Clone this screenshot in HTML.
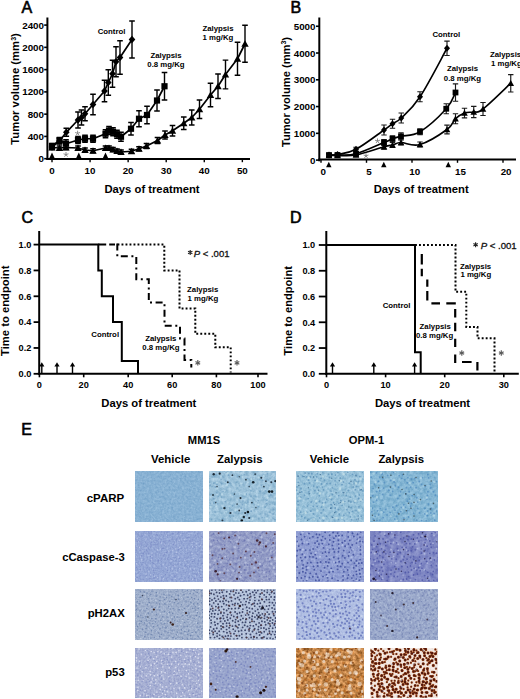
<!DOCTYPE html>
<html><head><meta charset="utf-8"><title>Figure</title>
<style>
html,body{margin:0;padding:0;background:#fff;}
body{width:520px;height:699px;overflow:hidden;font-family:"Liberation Sans",sans-serif;}
svg{display:block;font-family:"Liberation Sans",sans-serif;}
</style></head><body>
<svg width="520" height="699" viewBox="0 0 520 699">
<rect width="520" height="699" fill="#fff"/>
<text x="21.6" y="13.3" font-size="16" font-weight="normal" stroke="#000" stroke-width="0.6">A</text>
<text x="290.5" y="12.8" font-size="16" font-weight="normal" stroke="#000" stroke-width="0.6">B</text>
<text x="21.5" y="222.6" font-size="16" font-weight="normal" stroke="#000" stroke-width="0.6">C</text>
<text x="290" y="223" font-size="16" font-weight="normal" stroke="#000" stroke-width="0.6">D</text>
<text x="21.3" y="434.6" font-size="16" font-weight="normal" stroke="#000" stroke-width="0.6">E</text>
<line x1="47.4" y1="17.5" x2="47.4" y2="160" stroke="#000" stroke-width="2" />
<line x1="46.4" y1="159" x2="250" y2="159" stroke="#000" stroke-width="2" />
<line x1="44.2" y1="158.7" x2="47.4" y2="158.7" stroke="#000" stroke-width="1.6" />
<text x="44" y="162.2" font-size="9.8" font-weight="bold" text-anchor="end" >0</text>
<line x1="44.2" y1="136.42999999999998" x2="47.4" y2="136.42999999999998" stroke="#000" stroke-width="1.6" />
<text x="44" y="139.92999999999998" font-size="9.8" font-weight="bold" text-anchor="end" >400</text>
<line x1="44.2" y1="114.16" x2="47.4" y2="114.16" stroke="#000" stroke-width="1.6" />
<text x="44" y="117.66" font-size="9.8" font-weight="bold" text-anchor="end" >800</text>
<line x1="44.2" y1="91.88999999999999" x2="47.4" y2="91.88999999999999" stroke="#000" stroke-width="1.6" />
<text x="44" y="95.38999999999999" font-size="9.8" font-weight="bold" text-anchor="end" >1200</text>
<line x1="44.2" y1="69.61999999999999" x2="47.4" y2="69.61999999999999" stroke="#000" stroke-width="1.6" />
<text x="44" y="73.11999999999999" font-size="9.8" font-weight="bold" text-anchor="end" >1600</text>
<line x1="44.2" y1="47.349999999999994" x2="47.4" y2="47.349999999999994" stroke="#000" stroke-width="1.6" />
<text x="44" y="50.849999999999994" font-size="9.8" font-weight="bold" text-anchor="end" >2000</text>
<line x1="44.2" y1="25.079999999999984" x2="47.4" y2="25.079999999999984" stroke="#000" stroke-width="1.6" />
<text x="44" y="28.579999999999984" font-size="9.8" font-weight="bold" text-anchor="end" >2400</text>
<line x1="52.0" y1="159" x2="52.0" y2="162.2" stroke="#000" stroke-width="1.4" />
<text x="52.0" y="174" font-size="9.8" font-weight="bold" text-anchor="middle" >0</text>
<line x1="90.07" y1="159" x2="90.07" y2="162.2" stroke="#000" stroke-width="1.4" />
<text x="90.07" y="174" font-size="9.8" font-weight="bold" text-anchor="middle" >10</text>
<line x1="128.14" y1="159" x2="128.14" y2="162.2" stroke="#000" stroke-width="1.4" />
<text x="128.14" y="174" font-size="9.8" font-weight="bold" text-anchor="middle" >20</text>
<line x1="166.20999999999998" y1="159" x2="166.20999999999998" y2="162.2" stroke="#000" stroke-width="1.4" />
<text x="166.20999999999998" y="174" font-size="9.8" font-weight="bold" text-anchor="middle" >30</text>
<line x1="204.28" y1="159" x2="204.28" y2="162.2" stroke="#000" stroke-width="1.4" />
<text x="204.28" y="174" font-size="9.8" font-weight="bold" text-anchor="middle" >40</text>
<line x1="242.35" y1="159" x2="242.35" y2="162.2" stroke="#000" stroke-width="1.4" />
<text x="242.35" y="174" font-size="9.8" font-weight="bold" text-anchor="middle" >50</text>
<text transform="translate(19.2,89) rotate(-90)" font-size="11.3" font-weight="bold" text-anchor="middle">Tumor volume (mm<tspan font-size="7" dy="-3.5">3</tspan><tspan dy="3.5">)</tspan></text>
<text x="152" y="192.5" font-size="11.25" font-weight="bold" text-anchor="middle" >Days of treatment</text>
<path d="M52 145V149M49.2 145H54.8M49.2 149H54.8" stroke="#000" stroke-width="1.4" fill="none"/>
<path d="M59.5 138V144M56.7 138H62.3M56.7 144H62.3" stroke="#000" stroke-width="1.4" fill="none"/>
<path d="M66.3 128.3V136.3M63.5 128.3H69.1M63.5 136.3H69.1" stroke="#000" stroke-width="1.4" fill="none"/>
<path d="M78 112V128M75.2 112H80.8M75.2 128H80.8" stroke="#000" stroke-width="1.4" fill="none"/>
<path d="M81.5 110.0V125.0M78.7 110.0H84.3M78.7 125.0H84.3" stroke="#000" stroke-width="1.4" fill="none"/>
<path d="M85 106.75V120.75M82.2 106.75H87.8M82.2 120.75H87.8" stroke="#000" stroke-width="1.4" fill="none"/>
<path d="M93 94.2V114.8M90.2 94.2H95.8M90.2 114.8H95.8" stroke="#000" stroke-width="1.4" fill="none"/>
<path d="M104.5 80.3V101.7M101.7 80.3H107.3M101.7 101.7H107.3" stroke="#000" stroke-width="1.4" fill="none"/>
<path d="M108.3 69.7V95.3M105.5 69.7H111.1M105.5 95.3H111.1" stroke="#000" stroke-width="1.4" fill="none"/>
<path d="M112.5 60.25V87.25M109.7 60.25H115.3M109.7 87.25H115.3" stroke="#000" stroke-width="1.4" fill="none"/>
<path d="M116 46.75V76.75M113.2 46.75H118.8M113.2 76.75H118.8" stroke="#000" stroke-width="1.4" fill="none"/>
<path d="M120 40.8V74.2M117.2 40.8H122.8M117.2 74.2H122.8" stroke="#000" stroke-width="1.4" fill="none"/>
<path d="M132 21.0V58.0M129.2 21.0H134.8M129.2 58.0H134.8" stroke="#000" stroke-width="1.4" fill="none"/>
<path d="M52 143.5V148.5M49.2 143.5H54.8M49.2 148.5H54.8" stroke="#000" stroke-width="1.4" fill="none"/>
<path d="M59.5 137.5V143.5M56.7 137.5H62.3M56.7 143.5H62.3" stroke="#000" stroke-width="1.4" fill="none"/>
<path d="M66 139.75V147.75M63.2 139.75H68.8M63.2 147.75H68.8" stroke="#000" stroke-width="1.4" fill="none"/>
<path d="M78 136.5V143.5M75.2 136.5H80.8M75.2 143.5H80.8" stroke="#000" stroke-width="1.4" fill="none"/>
<path d="M85 135.25V142.25M82.2 135.25H87.8M82.2 142.25H87.8" stroke="#000" stroke-width="1.4" fill="none"/>
<path d="M93 135.25V142.25M90.2 135.25H95.8M90.2 142.25H95.8" stroke="#000" stroke-width="1.4" fill="none"/>
<path d="M105.5 129.75V137.75M102.7 129.75H108.3M102.7 137.75H108.3" stroke="#000" stroke-width="1.4" fill="none"/>
<path d="M109 126.5V134.5M106.2 126.5H111.8M106.2 134.5H111.8" stroke="#000" stroke-width="1.4" fill="none"/>
<path d="M113 127.75V135.75M110.2 127.75H115.8M110.2 135.75H115.8" stroke="#000" stroke-width="1.4" fill="none"/>
<path d="M117 130.25V138.25M114.2 130.25H119.8M114.2 138.25H119.8" stroke="#000" stroke-width="1.4" fill="none"/>
<path d="M121 132.25V141.25M118.2 132.25H123.8M118.2 141.25H123.8" stroke="#000" stroke-width="1.4" fill="none"/>
<path d="M131 122.45V135.05M128.2 122.45H133.8M128.2 135.05H133.8" stroke="#000" stroke-width="1.4" fill="none"/>
<path d="M139 110.75V126.75M136.2 110.75H141.8M136.2 126.75H141.8" stroke="#000" stroke-width="1.4" fill="none"/>
<path d="M147 106.2V123.8M144.2 106.2H149.8M144.2 123.8H149.8" stroke="#000" stroke-width="1.4" fill="none"/>
<path d="M157 90.0V111.0M154.2 90.0H159.8M154.2 111.0H159.8" stroke="#000" stroke-width="1.4" fill="none"/>
<path d="M164.5 72.45V100.05M161.7 72.45H167.3M161.7 100.05H167.3" stroke="#000" stroke-width="1.4" fill="none"/>
<path d="M52 145.5V149.5M49.2 145.5H54.8M49.2 149.5H54.8" stroke="#000" stroke-width="1.4" fill="none"/>
<path d="M59.5 146V150M56.7 146H62.3M56.7 150H62.3" stroke="#000" stroke-width="1.4" fill="none"/>
<path d="M66 145.5V149.5M63.2 145.5H68.8M63.2 149.5H68.8" stroke="#000" stroke-width="1.4" fill="none"/>
<path d="M78 146V150M75.2 146H80.8M75.2 150H80.8" stroke="#000" stroke-width="1.4" fill="none"/>
<path d="M85 148V152M82.2 148H87.8M82.2 152H87.8" stroke="#000" stroke-width="1.4" fill="none"/>
<path d="M93 148.75V152.75M90.2 148.75H95.8M90.2 152.75H95.8" stroke="#000" stroke-width="1.4" fill="none"/>
<path d="M105.5 146V150M102.7 146H108.3M102.7 150H108.3" stroke="#000" stroke-width="1.4" fill="none"/>
<path d="M109 146V150M106.2 146H111.8M106.2 150H111.8" stroke="#000" stroke-width="1.4" fill="none"/>
<path d="M113 147.5V151.5M110.2 147.5H115.8M110.2 151.5H115.8" stroke="#000" stroke-width="1.4" fill="none"/>
<path d="M117 149V153M114.2 149H119.8M114.2 153H119.8" stroke="#000" stroke-width="1.4" fill="none"/>
<path d="M121 150V154M118.2 150H123.8M118.2 154H123.8" stroke="#000" stroke-width="1.4" fill="none"/>
<path d="M131.5 149.25V153.25M128.7 149.25H134.3M128.7 153.25H134.3" stroke="#000" stroke-width="1.4" fill="none"/>
<path d="M139 146.75V150.75M136.2 146.75H141.8M136.2 150.75H141.8" stroke="#000" stroke-width="1.4" fill="none"/>
<path d="M146.5 143.5V148.5M143.7 143.5H149.3M143.7 148.5H149.3" stroke="#000" stroke-width="1.4" fill="none"/>
<path d="M157.5 137.5V143.5M154.7 137.5H160.3M154.7 143.5H160.3" stroke="#000" stroke-width="1.4" fill="none"/>
<path d="M165 131V139M162.2 131H167.8M162.2 139H167.8" stroke="#000" stroke-width="1.4" fill="none"/>
<path d="M172.5 125.45V136.05M169.7 125.45H175.3M169.7 136.05H175.3" stroke="#000" stroke-width="1.4" fill="none"/>
<path d="M183.75 116.95V129.55M180.95 116.95H186.55M180.95 129.55H186.55" stroke="#000" stroke-width="1.4" fill="none"/>
<path d="M191.75 110.0V125.0M188.95 110.0H194.55M188.95 125.0H194.55" stroke="#000" stroke-width="1.4" fill="none"/>
<path d="M199.5 100.05V118.45M196.7 100.05H202.3M196.7 118.45H202.3" stroke="#000" stroke-width="1.4" fill="none"/>
<path d="M210.5 83.3V106.7M207.7 83.3H213.3M207.7 106.7H213.3" stroke="#000" stroke-width="1.4" fill="none"/>
<path d="M218 74.05V98.45M215.2 74.05H220.8M215.2 98.45H220.8" stroke="#000" stroke-width="1.4" fill="none"/>
<path d="M225.5 60.1V88.9M222.7 60.1H228.3M222.7 88.9H228.3" stroke="#000" stroke-width="1.4" fill="none"/>
<path d="M237.5 42.25V75.25M234.7 42.25H240.3M234.7 75.25H240.3" stroke="#000" stroke-width="1.4" fill="none"/>
<path d="M245 25.25V62.25M242.2 25.25H247.8M242.2 62.25H247.8" stroke="#000" stroke-width="1.4" fill="none"/>
<path d="M52 147L59.5 141L66.3 132.3L78 120L81.5 117.5L85 113.75L93 104.5L104.5 91L108.3 82.5L112.5 73.75L116 61.75L120 57.5L132 39.5" stroke="#000" stroke-width="1.7" fill="none" stroke-linejoin="round"/>
<path d="M52 146L59.5 140.5L66 143.75L78 140L85 138.75L93 138.75L105.5 133.75L109 130.5L113 131.75L117 134.25L121 136.75L131 128.75L139 118.75L147 115L157 100.5L164.5 86.25" stroke="#000" stroke-width="1.7" fill="none" stroke-linejoin="round"/>
<path d="M52 147.5L59.5 148L66 147.5L78 148L85 150L93 150.75L105.5 148L109 148L113 149.5L117 151L121 152L131.5 151.25L139 148.75L146.5 146L157.5 140.5L165 135L172.5 130.75L183.75 123.25L191.75 117.5L199.5 109.25L210.5 95L218 86.25L225.5 74.5L237.5 58.75L245 43.75" stroke="#000" stroke-width="1.7" fill="none" stroke-linejoin="round"/>
<path d="M52 143.205L55.3 147L52 150.795L48.7 147Z"/>
<path d="M59.5 137.205L62.8 141L59.5 144.795L56.2 141Z"/>
<path d="M66.3 128.50500000000002L69.6 132.3L66.3 136.095L63.0 132.3Z"/>
<path d="M78 116.205L81.3 120L78 123.795L74.7 120Z"/>
<path d="M81.5 113.705L84.8 117.5L81.5 121.295L78.2 117.5Z"/>
<path d="M85 109.955L88.3 113.75L85 117.545L81.7 113.75Z"/>
<path d="M93 100.705L96.3 104.5L93 108.295L89.7 104.5Z"/>
<path d="M104.5 87.205L107.8 91L104.5 94.795L101.2 91Z"/>
<path d="M108.3 78.705L111.6 82.5L108.3 86.295L105.0 82.5Z"/>
<path d="M112.5 69.955L115.8 73.75L112.5 77.545L109.2 73.75Z"/>
<path d="M116 57.955L119.3 61.75L116 65.545L112.7 61.75Z"/>
<path d="M120 53.705L123.3 57.5L120 61.295L116.7 57.5Z"/>
<path d="M132 35.705L135.3 39.5L132 43.295L128.7 39.5Z"/>
<rect x="48.9" y="142.9" width="6.2" height="6.2"/>
<rect x="56.4" y="137.4" width="6.2" height="6.2"/>
<rect x="62.9" y="140.65" width="6.2" height="6.2"/>
<rect x="74.9" y="136.9" width="6.2" height="6.2"/>
<rect x="81.9" y="135.65" width="6.2" height="6.2"/>
<rect x="89.9" y="135.65" width="6.2" height="6.2"/>
<rect x="102.4" y="130.65" width="6.2" height="6.2"/>
<rect x="105.9" y="127.4" width="6.2" height="6.2"/>
<rect x="109.9" y="128.65" width="6.2" height="6.2"/>
<rect x="113.9" y="131.15" width="6.2" height="6.2"/>
<rect x="117.9" y="133.65" width="6.2" height="6.2"/>
<rect x="127.9" y="125.65" width="6.2" height="6.2"/>
<rect x="135.9" y="115.65" width="6.2" height="6.2"/>
<rect x="143.9" y="111.9" width="6.2" height="6.2"/>
<rect x="153.9" y="97.4" width="6.2" height="6.2"/>
<rect x="161.4" y="83.15" width="6.2" height="6.2"/>
<path d="M52 143.98L55.7 150.38L48.3 150.38Z"/>
<path d="M59.5 144.48L63.2 150.88L55.8 150.88Z"/>
<path d="M66 143.98L69.7 150.38L62.3 150.38Z"/>
<path d="M78 144.48L81.7 150.88L74.3 150.88Z"/>
<path d="M85 146.48L88.7 152.88L81.3 152.88Z"/>
<path d="M93 147.23L96.7 153.63L89.3 153.63Z"/>
<path d="M105.5 144.48L109.2 150.88L101.8 150.88Z"/>
<path d="M109 144.48L112.7 150.88L105.3 150.88Z"/>
<path d="M113 145.98L116.7 152.38L109.3 152.38Z"/>
<path d="M117 147.48L120.7 153.88L113.3 153.88Z"/>
<path d="M121 148.48L124.7 154.88L117.3 154.88Z"/>
<path d="M131.5 147.73L135.2 154.13L127.8 154.13Z"/>
<path d="M139 145.23L142.7 151.63L135.3 151.63Z"/>
<path d="M146.5 142.48L150.2 148.88L142.8 148.88Z"/>
<path d="M157.5 136.98L161.2 143.38L153.8 143.38Z"/>
<path d="M165 131.48L168.7 137.88L161.3 137.88Z"/>
<path d="M172.5 127.23L176.2 133.63L168.8 133.63Z"/>
<path d="M183.75 119.73L187.45 126.13L180.05 126.13Z"/>
<path d="M191.75 113.98L195.45 120.38L188.05 120.38Z"/>
<path d="M199.5 105.73L203.2 112.13L195.8 112.13Z"/>
<path d="M210.5 91.48L214.2 97.88L206.8 97.88Z"/>
<path d="M218 82.73L221.7 89.13L214.3 89.13Z"/>
<path d="M225.5 70.98L229.2 77.38L221.8 77.38Z"/>
<path d="M237.5 55.23L241.2 61.63L233.8 61.63Z"/>
<path d="M245 40.23L248.7 46.63L241.3 46.63Z"/>
<path d="M52 152.6L54.7 158.2L49.3 158.2Z"/>
<path d="M78.8 152.6L81.5 158.2L76.1 158.2Z"/>
<path d="M105.5 152.6L108.2 158.2L102.8 158.2Z"/>
<path d="M66 154.6L66.00 152.00M66 154.6L68.47 153.80M66 154.6L67.53 156.70M66 154.6L64.47 156.70M66 154.6L63.53 153.80" stroke="#808080" stroke-width="0.9" fill="none"/>
<path d="M77.6 133.3L77.60 130.70M77.6 133.3L80.07 132.50M77.6 133.3L79.13 135.40M77.6 133.3L76.07 135.40M77.6 133.3L75.13 132.50" stroke="#808080" stroke-width="0.9" fill="none"/>
<text x="111.5" y="33.5" font-size="7.8" font-weight="bold" text-anchor="middle" >Control</text>
<text x="166" y="57.8" font-size="7.8" font-weight="bold" text-anchor="middle" >Zalypsis</text>
<text x="166" y="67.1" font-size="7.8" font-weight="bold" text-anchor="middle" >0.8 mg/Kg</text>
<text x="218" y="30.8" font-size="7.8" font-weight="bold" text-anchor="middle" >Zalypsis</text>
<text x="218" y="39.9" font-size="7.8" font-weight="bold" text-anchor="middle" >1 mg/Kg</text>
<line x1="319.3" y1="17.5" x2="319.3" y2="161.3" stroke="#000" stroke-width="2" />
<line x1="318.3" y1="159.6" x2="516" y2="159.6" stroke="#000" stroke-width="2" />
<line x1="316" y1="160.1" x2="319.3" y2="160.1" stroke="#000" stroke-width="1.6" />
<text x="315.5" y="163.6" font-size="9.8" font-weight="bold" text-anchor="end" >0</text>
<line x1="316" y1="133.32999999999998" x2="319.3" y2="133.32999999999998" stroke="#000" stroke-width="1.6" />
<text x="315.5" y="136.82999999999998" font-size="9.8" font-weight="bold" text-anchor="end" >1000</text>
<line x1="316" y1="106.56" x2="319.3" y2="106.56" stroke="#000" stroke-width="1.6" />
<text x="315.5" y="110.06" font-size="9.8" font-weight="bold" text-anchor="end" >2000</text>
<line x1="316" y1="79.78999999999999" x2="319.3" y2="79.78999999999999" stroke="#000" stroke-width="1.6" />
<text x="315.5" y="83.28999999999999" font-size="9.8" font-weight="bold" text-anchor="end" >3000</text>
<line x1="316" y1="53.019999999999996" x2="319.3" y2="53.019999999999996" stroke="#000" stroke-width="1.6" />
<text x="315.5" y="56.519999999999996" font-size="9.8" font-weight="bold" text-anchor="end" >4000</text>
<line x1="316" y1="26.25" x2="319.3" y2="26.25" stroke="#000" stroke-width="1.6" />
<text x="315.5" y="29.75" font-size="9.8" font-weight="bold" text-anchor="end" >5000</text>
<line x1="321.0" y1="159.6" x2="321.0" y2="162.8" stroke="#000" stroke-width="1.4" />
<text x="323.3" y="175.4" font-size="9.8" font-weight="bold" text-anchor="middle" >0</text>
<line x1="366.5" y1="159.6" x2="366.5" y2="162.8" stroke="#000" stroke-width="1.4" />
<text x="369.0" y="175.4" font-size="9.8" font-weight="bold" text-anchor="middle" >5</text>
<line x1="412.0" y1="159.6" x2="412.0" y2="162.8" stroke="#000" stroke-width="1.4" />
<text x="414.70000000000005" y="175.4" font-size="9.8" font-weight="bold" text-anchor="middle" >10</text>
<line x1="457.5" y1="159.6" x2="457.5" y2="162.8" stroke="#000" stroke-width="1.4" />
<text x="460.40000000000003" y="175.4" font-size="9.8" font-weight="bold" text-anchor="middle" >15</text>
<line x1="503.0" y1="159.6" x2="503.0" y2="162.8" stroke="#000" stroke-width="1.4" />
<text x="506.1" y="175.4" font-size="9.8" font-weight="bold" text-anchor="middle" >20</text>
<text transform="translate(289.5,92) rotate(-90)" font-size="11.15" font-weight="bold" text-anchor="middle">Tumor volume (mm<tspan font-size="7" dy="-3.5">3</tspan><tspan dy="3.5">)</tspan></text>
<text x="421.2" y="192.5" font-size="11.25" font-weight="bold" text-anchor="middle" >Days of treatment</text>
<path d="M329 153.5V156.5M326.3 153.5H331.7M326.3 156.5H331.7" stroke="#1a1a1a" stroke-width="1.15" fill="none"/>
<path d="M337.5 153.0V156.0M334.8 153.0H340.2M334.8 156.0H340.2" stroke="#1a1a1a" stroke-width="1.15" fill="none"/>
<path d="M356 147.25V151.25M353.3 147.25H358.7M353.3 151.25H358.7" stroke="#1a1a1a" stroke-width="1.15" fill="none"/>
<path d="M384 125V135M381.3 125H386.7M381.3 135H386.7" stroke="#1a1a1a" stroke-width="1.15" fill="none"/>
<path d="M392.5 119.25V128.25M389.8 119.25H395.2M389.8 128.25H395.2" stroke="#1a1a1a" stroke-width="1.15" fill="none"/>
<path d="M401.25 113V123M398.55 113H403.95M398.55 123H403.95" stroke="#1a1a1a" stroke-width="1.15" fill="none"/>
<path d="M420 91.75V101.75M417.3 91.75H422.7M417.3 101.75H422.7" stroke="#1a1a1a" stroke-width="1.15" fill="none"/>
<path d="M447 41.05V55.45M444.3 41.05H449.7M444.3 55.45H449.7" stroke="#1a1a1a" stroke-width="1.15" fill="none"/>
<path d="M329 153.5V156.5M326.3 153.5H331.7M326.3 156.5H331.7" stroke="#1a1a1a" stroke-width="1.15" fill="none"/>
<path d="M337.5 153.5V156.5M334.8 153.5H340.2M334.8 156.5H340.2" stroke="#1a1a1a" stroke-width="1.15" fill="none"/>
<path d="M356 151.75V155.75M353.3 151.75H358.7M353.3 155.75H358.7" stroke="#1a1a1a" stroke-width="1.15" fill="none"/>
<path d="M384 139.5V145.5M381.3 139.5H386.7M381.3 145.5H386.7" stroke="#1a1a1a" stroke-width="1.15" fill="none"/>
<path d="M392.5 135.75V141.75M389.8 135.75H395.2M389.8 141.75H395.2" stroke="#1a1a1a" stroke-width="1.15" fill="none"/>
<path d="M401 132.75V139.75M398.3 132.75H403.7M398.3 139.75H403.7" stroke="#1a1a1a" stroke-width="1.15" fill="none"/>
<path d="M420 128.75V134.75M417.3 128.75H422.7M417.3 134.75H422.7" stroke="#1a1a1a" stroke-width="1.15" fill="none"/>
<path d="M446.25 103.75V113.75M443.55 103.75H448.95M443.55 113.75H448.95" stroke="#1a1a1a" stroke-width="1.15" fill="none"/>
<path d="M455.5 83.8V101.2M452.8 83.8H458.2M452.8 101.2H458.2" stroke="#1a1a1a" stroke-width="1.15" fill="none"/>
<path d="M329 154.0V157.0M326.3 154.0H331.7M326.3 157.0H331.7" stroke="#1a1a1a" stroke-width="1.15" fill="none"/>
<path d="M337.5 154.0V157.0M334.8 154.0H340.2M334.8 157.0H340.2" stroke="#1a1a1a" stroke-width="1.15" fill="none"/>
<path d="M356 153.5V156.5M353.3 153.5H358.7M353.3 156.5H358.7" stroke="#1a1a1a" stroke-width="1.15" fill="none"/>
<path d="M384 144.25V149.25M381.3 144.25H386.7M381.3 149.25H386.7" stroke="#1a1a1a" stroke-width="1.15" fill="none"/>
<path d="M392.5 142.5V147.5M389.8 142.5H395.2M389.8 147.5H395.2" stroke="#1a1a1a" stroke-width="1.15" fill="none"/>
<path d="M401 140.0V145.0M398.3 140.0H403.7M398.3 145.0H403.7" stroke="#1a1a1a" stroke-width="1.15" fill="none"/>
<path d="M420 142.0V147.0M417.3 142.0H422.7M417.3 147.0H422.7" stroke="#1a1a1a" stroke-width="1.15" fill="none"/>
<path d="M447 125.1V133.9M444.3 125.1H449.7M444.3 133.9H449.7" stroke="#1a1a1a" stroke-width="1.15" fill="none"/>
<path d="M455.5 113.75V123.75M452.8 113.75H458.2M452.8 123.75H458.2" stroke="#1a1a1a" stroke-width="1.15" fill="none"/>
<path d="M464.5 108.2V117.8M461.8 108.2H467.2M461.8 117.8H467.2" stroke="#1a1a1a" stroke-width="1.15" fill="none"/>
<path d="M473.75 106.4V117.6M471.05 106.4H476.45M471.05 117.6H476.45" stroke="#1a1a1a" stroke-width="1.15" fill="none"/>
<path d="M483 102.5V115.5M480.3 102.5H485.7M480.3 115.5H485.7" stroke="#1a1a1a" stroke-width="1.15" fill="none"/>
<path d="M510.75 74.55V91.95M508.05 74.55H513.45M508.05 91.95H513.45" stroke="#1a1a1a" stroke-width="1.15" fill="none"/>
<path d="M329 155C330.53 154.91 332.64 155.53 337.5 154.5C342.36 153.47 347.63 153.66 356 149.25C364.37 144.84 377.43 134.59 384 130C390.57 125.41 389.39 125.91 392.5 123.75C395.61 121.59 396.30 122.86 401.25 118C406.20 113.14 411.76 109.31 420 96.75C428.24 84.19 442.14 56.98 447 48.25" stroke="#000" stroke-width="1.6" fill="none" stroke-linejoin="round"/>
<path d="M329 155C330.53 155.00 332.64 155.22 337.5 155C342.36 154.78 347.63 156.00 356 153.75C364.37 151.50 377.43 145.20 384 142.5C390.57 139.80 389.44 139.88 392.5 138.75C395.56 137.62 396.05 137.51 401 136.25C405.95 134.99 411.86 136.70 420 131.75C428.14 126.80 439.86 115.81 446.25 108.75C452.64 101.69 453.83 95.42 455.5 92.5" stroke="#000" stroke-width="1.6" fill="none" stroke-linejoin="round"/>
<path d="M329 155.5C330.53 155.50 332.64 155.59 337.5 155.5C342.36 155.41 347.63 156.57 356 155C364.37 153.43 377.43 148.55 384 146.75C390.57 144.95 389.44 145.76 392.5 145C395.56 144.24 396.05 142.59 401 142.5C405.95 142.41 411.72 146.84 420 144.5C428.28 142.16 440.61 134.13 447 129.5C453.39 124.86 452.35 121.72 455.5 118.75C458.65 115.78 461.21 114.22 464.5 113C467.79 111.78 470.42 112.72 473.75 112C477.08 111.28 476.34 114.17 483 109C489.66 103.83 505.75 87.89 510.75 83.25" stroke="#000" stroke-width="1.6" fill="none" stroke-linejoin="round"/>
<path d="M329 151.55L332.0 155L329 158.45L326.0 155Z"/>
<path d="M337.5 151.05L340.5 154.5L337.5 157.95L334.5 154.5Z"/>
<path d="M356 145.8L359.0 149.25L356 152.7L353.0 149.25Z"/>
<path d="M384 126.55L387.0 130L384 133.45L381.0 130Z"/>
<path d="M392.5 120.3L395.5 123.75L392.5 127.2L389.5 123.75Z"/>
<path d="M401.25 114.55L404.25 118L401.25 121.45L398.25 118Z"/>
<path d="M420 93.3L423.0 96.75L420 100.2L417.0 96.75Z"/>
<path d="M447 44.8L450.0 48.25L447 51.7L444.0 48.25Z"/>
<rect x="326.1" y="152.1" width="5.8" height="5.8"/>
<rect x="334.6" y="152.1" width="5.8" height="5.8"/>
<rect x="353.1" y="150.85" width="5.8" height="5.8"/>
<rect x="381.1" y="139.6" width="5.8" height="5.8"/>
<rect x="389.6" y="135.85" width="5.8" height="5.8"/>
<rect x="398.1" y="133.35" width="5.8" height="5.8"/>
<rect x="417.1" y="128.85" width="5.8" height="5.8"/>
<rect x="443.35" y="105.85" width="5.8" height="5.8"/>
<rect x="452.6" y="89.6" width="5.8" height="5.8"/>
<path d="M329 152.2L332.3 158.2L325.7 158.2Z"/>
<path d="M337.5 152.2L340.8 158.2L334.2 158.2Z"/>
<path d="M356 151.7L359.3 157.7L352.7 157.7Z"/>
<path d="M384 143.45L387.3 149.45L380.7 149.45Z"/>
<path d="M392.5 141.7L395.8 147.7L389.2 147.7Z"/>
<path d="M401 139.2L404.3 145.2L397.7 145.2Z"/>
<path d="M420 141.2L423.3 147.2L416.7 147.2Z"/>
<path d="M447 126.2L450.3 132.2L443.7 132.2Z"/>
<path d="M455.5 115.45L458.8 121.45L452.2 121.45Z"/>
<path d="M464.5 109.7L467.8 115.7L461.2 115.7Z"/>
<path d="M473.75 108.7L477.05 114.7L470.45 114.7Z"/>
<path d="M483 105.7L486.3 111.7L479.7 111.7Z"/>
<path d="M510.75 79.95L514.05 85.95L507.45 85.95Z"/>
<path d="M328.8 161.8L331.5 167.2L326.1 167.2Z"/>
<path d="M383.8 161.8L386.5 167.2L381.1 167.2Z"/>
<path d="M448.3 161.8L451.0 167.2L445.6 167.2Z"/>
<path d="M366 155.8L366.00 153.20M366 155.8L368.47 155.00M366 155.8L367.53 157.90M366 155.8L364.47 157.90M366 155.8L363.53 155.00" stroke="#808080" stroke-width="0.9" fill="none"/>
<path d="M377.5 141L377.50 138.40M377.5 141L379.97 140.20M377.5 141L379.03 143.10M377.5 141L375.97 143.10M377.5 141L375.03 140.20" stroke="#808080" stroke-width="0.9" fill="none"/>
<text x="446.3" y="37.4" font-size="7.8" font-weight="bold" text-anchor="middle" >Control</text>
<text x="462.5" y="71.4" font-size="7.8" font-weight="bold" text-anchor="middle" >Zalypsis</text>
<text x="462.5" y="80.6" font-size="7.8" font-weight="bold" text-anchor="middle" >0.8 mg/Kg</text>
<text x="490" y="57.1" font-size="7.8" font-weight="bold" text-anchor="start" >Zalypsis</text>
<text x="491" y="66.1" font-size="7.8" font-weight="bold" text-anchor="start" >1 mg/Kg</text>
<line x1="39.2" y1="231" x2="39.2" y2="374.8" stroke="#000" stroke-width="2" />
<line x1="37.8" y1="373.8" x2="267.5" y2="373.8" stroke="#000" stroke-width="2" />
<line x1="33.6" y1="373.8" x2="39.2" y2="373.8" stroke="#000" stroke-width="1.8" />
<text x="31.4" y="377.1" font-size="9.2" font-weight="bold" text-anchor="end" >0.0</text>
<line x1="33.6" y1="347.96000000000004" x2="39.2" y2="347.96000000000004" stroke="#000" stroke-width="1.8" />
<text x="31.4" y="351.26000000000005" font-size="9.2" font-weight="bold" text-anchor="end" >0.2</text>
<line x1="33.6" y1="322.12" x2="39.2" y2="322.12" stroke="#000" stroke-width="1.8" />
<text x="31.4" y="325.42" font-size="9.2" font-weight="bold" text-anchor="end" >0.4</text>
<line x1="33.6" y1="296.28" x2="39.2" y2="296.28" stroke="#000" stroke-width="1.8" />
<text x="31.4" y="299.58" font-size="9.2" font-weight="bold" text-anchor="end" >0.6</text>
<line x1="33.6" y1="270.44" x2="39.2" y2="270.44" stroke="#000" stroke-width="1.8" />
<text x="31.4" y="273.74" font-size="9.2" font-weight="bold" text-anchor="end" >0.8</text>
<line x1="33.6" y1="244.6" x2="39.2" y2="244.6" stroke="#000" stroke-width="1.8" />
<text x="31.4" y="247.9" font-size="9.2" font-weight="bold" text-anchor="end" >1.0</text>
<line x1="39.4" y1="373.8" x2="39.4" y2="377.3" stroke="#000" stroke-width="1.6" />
<text x="39.4" y="388.3" font-size="9.2" font-weight="bold" text-anchor="middle" >0</text>
<line x1="83.7" y1="373.8" x2="83.7" y2="377.3" stroke="#000" stroke-width="1.6" />
<text x="83.7" y="388.3" font-size="9.2" font-weight="bold" text-anchor="middle" >20</text>
<line x1="128.2" y1="373.8" x2="128.2" y2="377.3" stroke="#000" stroke-width="1.6" />
<text x="128.2" y="388.3" font-size="9.2" font-weight="bold" text-anchor="middle" >40</text>
<line x1="172.2" y1="373.8" x2="172.2" y2="377.3" stroke="#000" stroke-width="1.6" />
<text x="172.2" y="388.3" font-size="9.2" font-weight="bold" text-anchor="middle" >60</text>
<line x1="216.4" y1="373.8" x2="216.4" y2="377.3" stroke="#000" stroke-width="1.6" />
<text x="216.4" y="388.3" font-size="9.2" font-weight="bold" text-anchor="middle" >80</text>
<line x1="258" y1="373.8" x2="258" y2="377.3" stroke="#000" stroke-width="1.6" />
<text x="258" y="388.3" font-size="9.2" font-weight="bold" text-anchor="middle" >100</text>
<text transform="translate(9.3,310.8) rotate(-90)" font-size="11.25" font-weight="bold" text-anchor="middle">Time to endpoint</text>
<text x="148.8" y="407" font-size="11.25" font-weight="bold" text-anchor="middle" >Days of treatment</text>
<path d="M38.8 244.6L98.3 244.6L98.3 270.44L101.8 270.44L101.8 296.28L113 296.28L113 322.12L121.8 322.12L121.8 360.88L138 360.88L138 373.8" stroke="#000" stroke-width="2" fill="none"  stroke-linecap="butt" stroke-linejoin="miter"/>
<path d="M98.3 244.6H106.2M109.2 244.6H115" stroke="#000" stroke-width="2"/>
<path d="M117.3 243.6L117.3 256.3L136.3 256.3L136.3 279.3L148.8 279.3L148.8 302.5L164.5 302.5L164.5 325.8L180 325.8L180 338.5L184.5 338.5L184.5 360L191.3 360L191.3 367.5" stroke="#000" stroke-width="2" fill="none" stroke-dasharray="7 3.6 2 3.6" stroke-linecap="butt" stroke-linejoin="miter"/>
<path d="M117.5 244.6L164.3 244.6L164.3 270.44L179.5 270.44L179.5 308.5L195.3 308.5L195.3 333.8L215.3 333.8L215.3 347.3L230.7 347.3L230.7 372.5" stroke="#000" stroke-width="2" fill="none" stroke-dasharray="1.9 2.1" stroke-linecap="butt" stroke-linejoin="miter"/>
<path d="M41.8 373.5V366.0" stroke="#000" stroke-width="1.4"/><path d="M41.8 362.3L44.4 366.5L39.199999999999996 366.5Z"/>
<path d="M57 373.5V366.0" stroke="#000" stroke-width="1.4"/><path d="M57 362.3L59.6 366.5L54.4 366.5Z"/>
<path d="M72.5 373.5V366.0" stroke="#000" stroke-width="1.4"/><path d="M72.5 362.3L75.1 366.5L69.9 366.5Z"/>
<path d="M197.80 360.10L197.80 365.50M200.14 361.45L195.46 364.15M200.14 364.15L195.46 361.45" stroke="#5c5c5c" stroke-width="1.15" fill="none"/>
<path d="M237.00 360.10L237.00 365.50M239.34 361.45L234.66 364.15M239.34 364.15L234.66 361.45" stroke="#5c5c5c" stroke-width="1.15" fill="none"/>
<text x="105.2" y="337.2" font-size="7.8" font-weight="bold" text-anchor="middle" >Control</text>
<text x="160.8" y="340.8" font-size="7.8" font-weight="bold" text-anchor="middle" >Zalypsis</text>
<text x="161" y="350.2" font-size="7.8" font-weight="bold" text-anchor="middle" >0.8 mg/Kg</text>
<text x="202.7" y="292.3" font-size="7.8" font-weight="bold" text-anchor="middle" >Zalypsis</text>
<text x="203" y="301.2" font-size="7.8" font-weight="bold" text-anchor="middle" >1 mg/Kg</text>
<path d="M190.20 249.90L190.20 254.90M192.37 251.15L188.03 253.65M192.37 253.65L188.03 251.15" stroke="#222" stroke-width="1.1" fill="none"/>
<text x="193.8" y="257.4" font-size="9.5" font-weight="normal" fill="#111" stroke="#111" stroke-width="0.3"><tspan font-style="italic">P</tspan> &lt; .001</text>
<line x1="326.3" y1="231" x2="326.3" y2="374.8" stroke="#000" stroke-width="2" />
<line x1="325.3" y1="373.8" x2="518.8" y2="373.8" stroke="#000" stroke-width="2" />
<line x1="318.8" y1="373.8" x2="326.3" y2="373.8" stroke="#000" stroke-width="1.8" />
<text x="315.2" y="377.1" font-size="9.2" font-weight="bold" text-anchor="end" >0.0</text>
<line x1="318.8" y1="348.04" x2="326.3" y2="348.04" stroke="#000" stroke-width="1.8" />
<text x="315.2" y="351.34000000000003" font-size="9.2" font-weight="bold" text-anchor="end" >0.2</text>
<line x1="318.8" y1="322.28" x2="326.3" y2="322.28" stroke="#000" stroke-width="1.8" />
<text x="315.2" y="325.58" font-size="9.2" font-weight="bold" text-anchor="end" >0.4</text>
<line x1="318.8" y1="296.52" x2="326.3" y2="296.52" stroke="#000" stroke-width="1.8" />
<text x="315.2" y="299.82" font-size="9.2" font-weight="bold" text-anchor="end" >0.6</text>
<line x1="318.8" y1="270.76" x2="326.3" y2="270.76" stroke="#000" stroke-width="1.8" />
<text x="315.2" y="274.06" font-size="9.2" font-weight="bold" text-anchor="end" >0.8</text>
<line x1="318.8" y1="245.0" x2="326.3" y2="245.0" stroke="#000" stroke-width="1.8" />
<text x="315.2" y="248.3" font-size="9.2" font-weight="bold" text-anchor="end" >1.0</text>
<line x1="326.5" y1="373.8" x2="326.5" y2="377.3" stroke="#000" stroke-width="1.6" />
<text x="326.5" y="388.3" font-size="9.2" font-weight="bold" text-anchor="middle" >0</text>
<line x1="385.6" y1="373.8" x2="385.6" y2="377.3" stroke="#000" stroke-width="1.6" />
<text x="385.6" y="388.3" font-size="9.2" font-weight="bold" text-anchor="middle" >10</text>
<line x1="444.7" y1="373.8" x2="444.7" y2="377.3" stroke="#000" stroke-width="1.6" />
<text x="444.7" y="388.3" font-size="9.2" font-weight="bold" text-anchor="middle" >20</text>
<line x1="503.8" y1="373.8" x2="503.8" y2="377.3" stroke="#000" stroke-width="1.6" />
<text x="503.8" y="388.3" font-size="9.2" font-weight="bold" text-anchor="middle" >30</text>
<text transform="translate(292.3,310.8) rotate(-90)" font-size="11.15" font-weight="bold" text-anchor="middle">Time to endpoint</text>
<text x="422.5" y="407" font-size="11.25" font-weight="bold" text-anchor="middle" >Days of treatment</text>
<path d="M326.3 245.0L415 245.0L415 352.3L420.7 352.3L420.7 373.8" stroke="#000" stroke-width="2" fill="none"  stroke-linecap="butt" stroke-linejoin="miter"/>
<path d="M421.8 254V264.6M421.8 268.8V276.3M427.3 279.4V286.8M427.3 291V300.6M431.4 303.3H440M446.3 303.3H455.8M455.2 309V317.5M455.2 322.8V331.3M455.2 338.7V347.1M455.2 354.5V363M462 362H471.6M477.4 362V370.4" stroke="#000" stroke-width="2.2" fill="none"/>
<path d="M415 245.0L455.5 245.0L455.5 291.8L466.3 291.8L466.3 327L477.5 327L477.5 338.3L494.5 338.3L494.5 372.5" stroke="#000" stroke-width="2" fill="none" stroke-dasharray="1.9 2.1" stroke-linecap="butt" stroke-linejoin="miter"/>
<path d="M332.5 373.5V366.0" stroke="#000" stroke-width="1.4"/><path d="M332.5 362.3L335.1 366.5L329.9 366.5Z"/>
<path d="M373.8 373.5V366.0" stroke="#000" stroke-width="1.4"/><path d="M373.8 362.3L376.40000000000003 366.5L371.2 366.5Z"/>
<path d="M414.6 373.5V366.0" stroke="#000" stroke-width="1.4"/><path d="M414.6 362.3L417.20000000000005 366.5L412.0 366.5Z"/>
<path d="M461.80 350.30L461.80 355.70M464.14 351.65L459.46 354.35M464.14 354.35L459.46 351.65" stroke="#5c5c5c" stroke-width="1.15" fill="none"/>
<path d="M501.30 350.30L501.30 355.70M503.64 351.65L498.96 354.35M503.64 354.35L498.96 351.65" stroke="#5c5c5c" stroke-width="1.15" fill="none"/>
<text x="396.5" y="308.3" font-size="7.8" font-weight="bold" text-anchor="middle" >Control</text>
<text x="435.2" y="329.2" font-size="7.8" font-weight="bold" text-anchor="middle" >Zalypsis</text>
<text x="434.6" y="337.6" font-size="7.8" font-weight="bold" text-anchor="middle" >0.8 mg/Kg</text>
<text x="475.6" y="268.5" font-size="7.8" font-weight="bold" text-anchor="middle" >Zalypsis</text>
<text x="475.8" y="276.9" font-size="7.8" font-weight="bold" text-anchor="middle" >1 mg/Kg</text>
<path d="M475.60 242.30L475.60 247.30M477.77 243.55L473.43 246.05M477.77 246.05L473.43 243.55" stroke="#222" stroke-width="1.1" fill="none"/>
<text x="480.7" y="249.4" font-size="9.6" font-weight="normal" fill="#111" stroke="#111" stroke-width="0.3"><tspan font-style="italic">P</tspan> &lt; .001</text>
<filter id="blr" x="-0.05" y="-0.05" width="1.1" height="1.1"><feGaussianBlur stdDeviation="0.45"/></filter>
<text x="204" y="444.3" font-size="11.2" font-weight="bold" text-anchor="middle" >MM1S</text>
<text x="366.5" y="443.8" font-size="11.2" font-weight="bold" text-anchor="middle" >OPM-1</text>
<text x="170.6" y="463.2" font-size="11.4" font-weight="bold" text-anchor="middle" >Vehicle</text>
<text x="239.8" y="463.2" font-size="11.4" font-weight="bold" text-anchor="middle" >Zalypsis</text>
<text x="329.4" y="463.2" font-size="11.4" font-weight="bold" text-anchor="middle" >Vehicle</text>
<text x="401.2" y="463.2" font-size="11.4" font-weight="bold" text-anchor="middle" >Zalypsis</text>
<text x="124.2" y="502.2" font-size="11.5" font-weight="bold" text-anchor="end" >cPARP</text>
<text x="124.7" y="560.8" font-size="11.25" font-weight="bold" text-anchor="end" >cCaspase-3</text>
<text x="124.7" y="616.8" font-size="11.3" font-weight="bold" text-anchor="end" >pH2AX</text>
<text x="124.7" y="676" font-size="11.3" font-weight="bold" text-anchor="end" >p53</text>
<filter id="f1" x="0" y="0" width="1" height="1" color-interpolation-filters="sRGB"><feTurbulence type="fractalNoise" baseFrequency="0.45" numOctaves="3" seed="3"/><feColorMatrix type="matrix" values="0.180 0 0 0 0.443  0.140 0 0 0 0.624  0.100 0 0 0 0.777  0 0 0 0 1"/></filter>
<g transform="translate(135.8,471.7)"><rect width="67" height="49.8" fill="#88b1d3" filter="url(#f1)"/>
<clipPath id="cf1"><rect width="67" height="49.8"/></clipPath><g clip-path="url(#cf1)" fill="none" stroke-linecap="round" filter="url(#blr)">
<path d="M38.3 21.4h0M38.7 10.3h0M54.5 41.0h0M43.8 8.0h0M34.9 16.3h0M16.7 47.5h0M66.8 2.2h0M57.6 30.0h0M25.6 14.1h0M45.2 22.8h0M46.0 33.0h0M8.9 38.2h0M65.8 48.3h0M41.1 2.2h0M0.3 6.7h0M63.0 15.1h0M24.5 44.7h0M21.1 27.3h0M29.2 3.2h0M39.2 42.0h0M10.5 11.2h0M33.3 40.7h0M57.3 7.5h0M52.0 4.8h0M63.5 21.6h0M18.4 30.7h0M12.0 6.0h0M30.5 8.2h0M43.5 40.9h0M52.1 23.9h0M23.3 21.6h0M0.3 35.5h0M5.4 22.3h0M16.2 26.2h0M61.0 25.9h0M32.8 23.0h0M39.2 26.8h0M29.6 48.2h0M0.2 26.7h0M48.7 44.7h0M43.5 45.3h0M41.5 34.2h0M43.1 29.3h0M54.1 47.9h0M29.2 42.8h0M3.1 45.5h0M12.9 17.4h0M5.3 9.7h0M67.0 44.2h0M31.1 37.0h0" stroke="#a8c8e4" stroke-width="1.4" opacity="0.5"/>
<path d="M31.8 32.7h0M44.6 7.1h0M0.7 18.7h0M18.4 40.4h0M46.3 30.0h0M37.4 32.9h0M9.7 21.9h0M10.9 45.1h0M3.9 40.8h0M5.0 34.2h0M22.6 20.1h0M56.4 0.9h0M4.1 45.6h0M34.1 4.5h0M66.1 47.1h0M9.0 15.6h0M46.7 2.6h0M11.5 40.6h0M26.8 20.9h0M39.9 23.7h0M25.8 1.5h0M48.7 48.2h0M65.4 33.0h0M7.6 11.7h0M24.3 25.5h0M54.3 24.9h0M28.8 25.8h0M14.9 21.3h0M26.0 38.4h0M6.9 27.4h0M11.9 34.7h0M2.5 13.8h0M23.1 31.7h0M3.5 22.9h0M14.0 14.0h0M31.9 47.7h0M24.4 9.4h0M51.6 17.0h0M16.2 0.4h0M2.7 30.8h0M55.7 31.8h0M15.4 26.3h0M17.6 47.1h0M59.9 8.1h0M47.2 10.7h0M19.1 12.7h0M45.8 34.6h0M28.2 12.0h0M61.6 47.9h0M39.4 44.9h0" stroke="#6f9cc6" stroke-width="1.5" opacity="0.45"/>
</g></g>
<filter id="f2" x="0" y="0" width="1" height="1" color-interpolation-filters="sRGB"><feTurbulence type="fractalNoise" baseFrequency="0.3" numOctaves="3" seed="5"/><feColorMatrix type="matrix" values="0.320 0 0 0 0.452  0.240 0 0 0 0.637  0.180 0 0 0 0.761  0 0 0 0 1"/></filter>
<g transform="translate(209,471.7)"><rect width="67" height="49.8" fill="#9cc1d9" filter="url(#f2)"/>
<clipPath id="cf2"><rect width="67" height="49.8"/></clipPath><g clip-path="url(#cf2)" fill="none" stroke-linecap="round" filter="url(#blr)">
<path d="M30.3 27.9h0M61.9 23.2h0M34.0 29.3h0M12.4 25.5h0M42.2 39.5h0M6.3 15.1h0M6.1 40.3h0M46.5 2.1h0M65.8 48.0h0M43.8 30.7h0M10.6 0.7h0M35.4 3.0h0M12.7 12.0h0M2.0 23.1h0M29.5 42.0h0M33.5 33.0h0M30.6 13.9h0M56.3 35.2h0M21.1 11.4h0M19.4 3.5h0M51.3 19.9h0M56.7 19.2h0M64.2 42.2h0M0.0 10.4h0M65.7 19.8h0M4.9 31.3h0M52.2 13.4h0M64.6 37.8h0M7.9 12.3h0M6.8 3.0h0M53.4 8.8h0M37.5 22.3h0M12.8 36.4h0M8.8 32.1h0M7.8 21.0h0M20.4 44.1h0M14.1 19.6h0M57.2 32.0h0M6.7 49.3h0M16.3 29.9h0M24.9 22.6h0M38.5 43.2h0M12.2 7.7h0M60.9 40.7h0M16.7 9.5h0M49.5 46.8h0M13.2 47.3h0M28.2 5.2h0M2.6 47.9h0M16.0 35.1h0M17.2 41.0h0M40.0 14.6h0M4.6 11.4h0M61.5 10.2h0M1.1 13.4h0M38.3 6.6h0M24.3 44.4h0M65.7 32.7h0M1.4 31.7h0M32.3 36.4h0M21.4 49.8h0M5.0 27.2h0M49.4 35.0h0M53.1 45.6h0M23.6 34.1h0M27.9 39.4h0M57.9 28.5h0M41.9 19.0h0M39.0 30.3h0M49.2 28.9h0M46.8 24.8h0M41.2 45.8h0M17.1 0.6h0M20.2 33.8h0M60.7 32.9h0M9.1 24.7h0M56.1 42.3h0M41.9 24.6h0M58.5 2.1h0M20.7 39.4h0" stroke="#6496bc" stroke-width="1.8" opacity="0.55"/>
<path d="M7.2 35.0h0M43.7 46.8h0M18.2 12.7h0M49.2 32.8h0M20.3 34.1h0M26.6 38.7h0M7.9 11.1h0M60.4 17.8h0M17.4 40.1h0M42.3 7.5h0M36.9 33.1h0M8.2 16.8h0M65.5 20.1h0M12.1 4.7h0M58.6 25.6h0M13.0 22.5h0M33.5 5.1h0M54.8 4.5h0M18.8 1.4h0M49.6 5.7h0M35.8 22.7h0M31.8 11.8h0M58.0 46.8h0M4.5 7.1h0M1.3 35.1h0" stroke="#c6e2ee" stroke-width="2.2" opacity="0.6"/>
<path d="M4.7 2.5h0" stroke="#1c2a36" stroke-width="2.4"/>
<path d="M10.7 2.0h0" stroke="#1c2a36" stroke-width="2.2"/>
<path d="M18.8 10.5h0" stroke="#233240" stroke-width="2.0"/>
<path d="M44.2 10.5h0" stroke="#15202a" stroke-width="2.6"/>
<path d="M46.2 2.5h0" stroke="#3a5060" stroke-width="2.0"/>
<path d="M60.3 19.9h0" stroke="#121c24" stroke-width="2.8"/>
<path d="M63.0 19.9h0" stroke="#121c24" stroke-width="2.6"/>
<path d="M66.3 9.5h0" stroke="#1c2a36" stroke-width="2.2"/>
<path d="M62.3 10.5h0" stroke="#2a3a48" stroke-width="2.0"/>
<path d="M4.0 23.4h0" stroke="#2a3a48" stroke-width="2.0"/>
<path d="M31.5 26.4h0" stroke="#1c2a36" stroke-width="2.2"/>
<path d="M15.4 36.4h0" stroke="#1c2a36" stroke-width="2.4"/>
<path d="M21.4 41.3h0" stroke="#233240" stroke-width="2.2"/>
<path d="M36.2 41.3h0" stroke="#1c2a36" stroke-width="2.2"/>
<path d="M38.9 40.3h0" stroke="#10181e" stroke-width="2.6"/>
<path d="M34.8 45.3h0" stroke="#15202a" stroke-width="2.4"/>
<path d="M32.8 48.8h0" stroke="#10181e" stroke-width="2.6"/>
<path d="M13.4 48.8h0" stroke="#2a3a48" stroke-width="2.0"/>
<path d="M28.1 32.4h0" stroke="#3a5060" stroke-width="1.8"/>
<path d="M56.9 9.5h0" stroke="#2a3a48" stroke-width="1.8"/>
<path d="M23.4 3.5h0" stroke="#2a3a48" stroke-width="1.8"/>
<path d="M30.2 5.0h0" stroke="#3a5060" stroke-width="1.6"/>
<path d="M36.9 8.0h0" stroke="#2a3a48" stroke-width="1.8"/>
<path d="M52.3 6.0h0" stroke="#233240" stroke-width="2.0"/>
<path d="M40.2 14.9h0" stroke="#3a5060" stroke-width="1.6"/>
<path d="M8.0 14.9h0" stroke="#3a5060" stroke-width="1.6"/>
<path d="M25.5 22.4h0" stroke="#3a5060" stroke-width="1.6"/>
<path d="M42.9 30.9h0" stroke="#2a3a48" stroke-width="1.8"/>
<path d="M46.9 35.9h0" stroke="#3a5060" stroke-width="1.6"/>
<path d="M30.2 38.8h0" stroke="#2a3a48" stroke-width="1.8"/>
<path d="M40.2 46.3h0" stroke="#1c2a36" stroke-width="2.0"/>
<path d="M6.7 30.9h0" stroke="#3a5060" stroke-width="1.6"/>
<path d="M54.9 14.9h0" stroke="#2a3a48" stroke-width="1.8"/>
</g></g>
<filter id="f3" x="0" y="0" width="1" height="1" color-interpolation-filters="sRGB"><feTurbulence type="fractalNoise" baseFrequency="0.35" numOctaves="3" seed="7"/><feColorMatrix type="matrix" values="0.300 0 0 0 0.446  0.220 0 0 0 0.647  0.160 0 0 0 0.771  0 0 0 0 1"/></filter>
<g transform="translate(296.3,471.7)"><rect width="67" height="49.8" fill="#98c1d9" filter="url(#f3)"/>
<clipPath id="cf3"><rect width="67" height="49.8"/></clipPath><g clip-path="url(#cf3)" fill="none" stroke-linecap="round" filter="url(#blr)">
<path d="M11.1 34.4h0M42.5 23.9h0M14.5 39.5h0M54.1 25.5h0M33.8 11.8h0M0.2 18.5h0M39.2 3.4h0M53.2 11.6h0M15.6 2.1h0M66.8 36.8h0M58.6 30.7h0M33.3 5.8h0M63.8 18.3h0M10.4 40.7h0M8.4 46.2h0M30.4 27.5h0M23.0 24.1h0M12.5 1.8h0M58.0 11.7h0M64.9 44.5h0M50.6 38.0h0M38.9 36.3h0M8.2 23.7h0M61.9 44.2h0M27.4 18.2h0M66.7 19.3h0M1.8 4.6h0M48.1 49.4h0M33.2 24.5h0M14.9 30.3h0M37.3 31.0h0M12.1 8.5h0M23.3 46.2h0M23.2 29.7h0M20.5 5.1h0M4.4 40.5h0M52.1 18.7h0M45.8 33.7h0M60.2 47.7h0M27.3 49.3h0M64.4 29.4h0M59.2 24.4h0M25.2 12.3h0M58.7 8.1h0M56.1 2.6h0M17.3 14.4h0M28.1 8.5h0M4.7 16.8h0M50.0 23.9h0M16.9 47.8h0M35.2 36.3h0M1.9 10.6h0M56.2 39.6h0M56.9 15.3h0M51.5 0.5h0M1.6 29.6h0M43.1 42.4h0M39.2 12.8h0M6.4 4.7h0M1.7 22.3h0M43.9 6.3h0M36.1 16.1h0M25.3 35.4h0M47.6 43.5h0M16.9 34.7h0M21.0 2.1h0M26.1 15.4h0M60.4 14.7h0M63.5 4.9h0M20.8 34.8h0M35.2 27.9h0M21.3 49.5h0M41.6 1.0h0M34.7 19.4h0M54.8 36.0h0M30.6 11.8h0M42.3 48.0h0M59.7 38.8h0M42.0 37.8h0M55.3 48.0h0M66.3 0.3h0M20.9 15.5h0M47.2 10.2h0M45.7 13.0h0M17.0 42.1h0M18.6 18.9h0M63.0 23.3h0M29.3 30.7h0M18.8 8.7h0M12.6 47.8h0M62.6 35.1h0M30.4 44.5h0M24.8 6.7h0M53.0 41.0h0M35.5 2.4h0M12.6 20.1h0M5.4 44.8h0M54.6 30.2h0M20.0 31.2h0M59.6 3.5h0M4.5 25.5h0M10.6 5.2h0M62.4 26.8h0M54.1 45.1h0M35.7 45.2h0M66.9 27.6h0M59.1 18.0h0M5.5 20.2h0M11.9 26.9h0M8.8 1.3h0M1.8 33.1h0M14.1 5.3h0M8.2 12.0h0M36.0 22.8h0M39.3 40.0h0M26.4 0.2h0M44.5 29.0h0M38.6 49.7h0M13.2 11.3h0M32.3 2.7h0M24.8 41.2h0M26.1 31.3h0M62.2 9.9h0M46.7 20.6h0M48.6 29.6h0M42.6 31.7h0M27.2 37.9h0M34.9 33.0h0M0.6 15.1h0M38.8 9.1h0" stroke="#5a8eb8" stroke-width="1.8" opacity="0.7"/>
<path d="M64.2 7.0h0M1.6 49.7h0M12.3 6.0h0M43.6 17.2h0M59.6 11.5h0M64.3 15.9h0M40.3 46.4h0M45.9 46.0h0M47.4 2.4h0M59.1 29.4h0M20.8 9.5h0M62.8 38.5h0M64.4 28.2h0M46.8 30.5h0M17.3 47.6h0M20.9 38.9h0M9.5 41.1h0M44.7 9.2h0M3.3 26.5h0M33.9 25.8h0M27.4 32.9h0M19.9 29.7h0M23.8 21.5h0M27.0 46.3h0M26.8 4.8h0" stroke="#cfe6ea" stroke-width="2.6" opacity="0.6"/>
<path d="M62.0 47.2h0M59.8 4.2h0M39.7 21.1h0M35.5 6.5h0M12.9 22.1h0M1.7 4.3h0M47.6 21.0h0M34.3 36.6h0M24.1 2.9h0M52.5 29.3h0M44.1 30.9h0M65.0 18.1h0M38.3 32.9h0M43.0 9.1h0M12.0 16.1h0M54.7 9.7h0M7.7 4.9h0M2.6 13.7h0M38.4 40.9h0M22.2 18.4h0M17.3 5.3h0M52.5 35.2h0M36.5 45.8h0M11.2 48.6h0M3.7 20.7h0" stroke="#2e5a80" stroke-width="1.4" opacity="0.7"/>
</g></g>
<filter id="f4" x="0" y="0" width="1" height="1" color-interpolation-filters="sRGB"><feTurbulence type="fractalNoise" baseFrequency="0.3" numOctaves="3" seed="9"/><feColorMatrix type="matrix" values="0.300 0 0 0 0.372  0.220 0 0 0 0.604  0.160 0 0 0 0.751  0 0 0 0 1"/></filter>
<g transform="translate(370.3,471.7)"><rect width="67" height="49.8" fill="#85b6d4" filter="url(#f4)"/>
<clipPath id="cf4"><rect width="67" height="49.8"/></clipPath><g clip-path="url(#cf4)" fill="none" stroke-linecap="round" filter="url(#blr)">
<path d="M0.8 5.6h0M26.3 34.1h0M9.3 5.6h0M15.5 37.7h0M9.9 36.9h0M44.4 6.8h0M35.9 22.3h0M27.6 49.6h0M6.2 1.0h0M63.0 20.1h0M13.3 16.4h0M24.4 47.6h0M14.1 10.8h0M39.2 27.3h0M63.9 41.8h0M23.8 10.2h0M56.0 49.3h0M2.0 36.6h0M58.2 32.4h0M48.9 9.7h0M42.9 10.9h0M2.8 16.7h0M22.4 19.7h0M43.3 41.6h0M64.4 48.6h0M66.6 39.3h0M20.5 8.8h0M12.9 45.9h0M40.3 34.6h0M6.4 19.9h0M66.4 9.8h0M30.5 39.9h0M37.6 5.9h0M6.6 49.0h0M8.0 9.7h0M22.5 35.5h0M57.2 23.7h0M18.6 18.5h0M41.1 31.7h0M46.4 48.5h0M51.4 12.7h0M51.3 49.1h0M23.4 0.6h0M25.1 14.1h0M11.8 2.2h0M8.4 43.1h0M3.3 30.6h0M55.0 14.9h0M12.3 22.7h0M46.6 26.1h0M57.6 20.0h0M35.1 35.7h0M30.9 35.7h0M31.3 6.7h0M9.4 19.0h0M49.3 41.2h0M60.0 12.9h0M13.5 40.5h0M24.7 38.4h0M4.4 12.4h0M41.9 23.9h0M33.5 46.6h0M2.3 24.0h0M19.9 23.6h0M0.4 0.0h0M20.1 45.4h0M38.8 20.1h0M36.2 15.9h0M6.4 28.6h0M37.1 11.0h0M27.5 41.0h0M3.2 47.5h0M45.8 16.1h0M32.9 49.7h0M27.4 26.8h0M1.6 40.0h0M29.5 23.9h0M60.4 41.2h0M57.6 2.8h0M38.1 45.3h0M30.2 20.0h0M54.7 36.6h0M61.0 36.8h0M37.3 39.1h0M58.3 6.2h0M28.2 15.6h0M7.2 39.1h0M29.0 3.9h0M32.3 3.1h0M40.3 15.6h0M56.7 27.3h0M51.8 6.0h0M47.4 30.4h0M57.0 44.0h0M36.9 29.5h0M17.4 3.7h0M41.1 7.4h0M65.0 23.6h0M26.1 44.7h0M33.5 33.0h0M12.6 6.8h0M47.4 36.8h0M57.5 39.2h0M4.8 44.7h0M54.4 42.2h0M19.9 40.9h0M34.5 8.1h0M9.6 48.5h0M60.3 16.2h0M16.7 43.3h0" stroke="#4a86bd" stroke-width="1.9" opacity="0.65"/>
<path d="M5.2 10.6h0M20.3 44.8h0M33.2 35.9h0M6.7 25.3h0M56.5 26.0h0M63.3 43.9h0M24.9 0.0h0M50.6 6.3h0M0.6 36.4h0M56.5 41.7h0M63.9 10.0h0M10.7 1.0h0M3.3 1.9h0M23.7 8.1h0M11.2 40.6h0M49.5 28.3h0M39.3 11.4h0M26.8 49.2h0" stroke="#c4e2ec" stroke-width="2.4" opacity="0.6"/>
<path d="M38.2 31.5h0M54.7 13.8h0M43.7 44.4h0M60.9 9.3h0M43.7 30.7h0M33.7 48.1h0M35.4 22.2h0M63.2 31.7h0M20.2 15.4h0M33.2 2.6h0M40.7 36.6h0M28.6 42.2h0M45.7 5.8h0M3.8 48.8h0M60.1 37.3h0M8.3 16.0h0M0.4 26.1h0M12.4 5.5h0M2.2 43.5h0M50.1 27.9h0M43.8 22.8h0M31.7 17.8h0M36.1 39.1h0M20.6 3.5h0" stroke="#3a4a50" stroke-width="1.6" opacity="0.8"/>
</g></g>
<filter id="f5" x="0" y="0" width="1" height="1" color-interpolation-filters="sRGB"><feTurbulence type="fractalNoise" baseFrequency="0.55" numOctaves="3" seed="13"/><feColorMatrix type="matrix" values="0.200 0 0 0 0.480  0.200 0 0 0 0.551  0.120 0 0 0 0.771  0 0 0 0 1"/></filter>
<g transform="translate(135.8,531.5)"><rect width="67" height="49.8" fill="#94a6d4" filter="url(#f5)"/>
<clipPath id="cf5"><rect width="67" height="49.8"/></clipPath><g clip-path="url(#cf5)" fill="none" stroke-linecap="round" filter="url(#blr)">
<path d="M25.5 11.5h0M11.1 45.5h0M38.7 34.4h0M37.1 19.1h0M49.0 28.7h0M52.3 32.9h0M56.2 21.9h0M10.4 7.5h0M48.5 8.3h0M43.9 30.9h0M4.0 39.1h0M2.2 43.2h0M56.4 10.8h0M48.7 36.5h0M8.4 33.4h0M46.2 48.8h0M3.6 15.8h0M56.7 15.0h0M27.3 33.0h0M33.0 19.7h0M1.5 6.7h0M30.7 36.3h0M36.2 43.8h0M43.9 16.0h0M9.3 3.3h0M58.6 37.4h0M43.9 37.3h0M40.8 20.8h0M56.8 47.9h0M16.2 21.8h0M27.5 22.4h0M64.8 13.7h0M14.2 34.2h0M18.6 44.7h0M21.8 46.0h0M25.4 44.1h0M14.4 8.2h0M44.7 3.2h0M15.9 28.2h0M10.4 16.4h0M7.9 49.7h0M37.0 24.8h0M65.0 44.5h0M55.1 1.5h0M39.5 46.9h0M42.8 25.5h0M43.5 8.8h0M4.8 25.4h0M39.9 17.5h0M60.7 15.3h0M10.2 42.5h0M41.0 41.3h0M16.0 24.9h0M39.8 11.6h0M12.2 23.6h0M63.0 41.1h0M13.1 40.0h0M21.6 18.3h0M14.9 43.5h0M34.4 7.4h0M18.2 1.2h0M35.3 29.2h0M46.2 24.4h0M53.8 42.5h0M7.1 19.4h0M67.0 33.3h0M50.4 18.5h0M53.3 4.2h0M24.8 17.5h0M60.5 48.5h0M23.2 8.4h0M60.3 23.5h0M32.4 12.6h0M18.3 34.5h0M60.6 12.2h0M54.5 37.5h0M18.1 4.6h0M36.5 37.5h0M0.8 32.3h0M27.8 47.0h0M2.5 10.1h0M5.9 28.2h0M30.6 4.1h0M59.8 44.6h0M65.1 38.3h0M1.1 47.2h0M28.9 13.5h0M41.4 4.3h0M57.9 26.8h0M24.8 47.6h0" stroke="#c6d0ee" stroke-width="1.4" opacity="0.7"/>
<path d="M42.8 1.2h0M18.4 11.1h0M49.3 33.7h0M59.8 4.3h0M28.3 1.5h0M14.6 25.2h0M1.8 9.9h0M43.5 27.1h0M14.8 29.3h0M54.2 0.3h0M54.0 34.8h0M22.8 7.7h0M64.1 16.8h0M6.2 4.8h0M56.8 30.1h0M35.9 48.5h0M25.4 27.5h0M47.2 2.3h0M15.3 14.4h0M5.3 11.6h0M42.6 18.2h0M24.8 10.4h0M17.9 46.6h0M43.4 30.3h0M11.5 36.3h0M10.9 18.9h0M66.3 31.9h0M37.3 34.1h0M56.5 38.6h0M15.3 1.6h0M21.1 13.3h0M14.1 47.0h0M58.7 15.7h0M61.3 22.9h0M37.6 13.1h0M39.2 44.7h0M66.8 25.4h0M7.3 31.2h0M53.1 21.0h0M4.3 19.0h0M65.1 42.9h0M0.8 35.9h0M17.9 31.9h0M7.5 21.7h0M30.4 47.5h0M33.5 8.9h0M61.1 43.4h0M40.8 7.6h0M51.1 26.9h0M0.0 16.1h0M1.3 46.3h0M20.6 2.9h0M58.8 47.2h0M5.7 24.2h0M4.6 37.9h0M51.3 6.4h0M31.8 27.4h0M17.8 43.4h0M28.4 10.5h0M22.7 29.3h0M15.4 11.0h0M14.4 6.6h0M62.7 28.4h0M31.7 39.1h0M54.1 9.5h0M28.4 23.3h0M65.9 4.9h0M27.0 16.9h0M57.7 12.4h0M12.7 22.3h0M28.3 13.9h0M29.7 42.9h0M36.9 2.5h0M64.9 46.1h0M56.9 8.3h0M25.4 49.1h0M17.8 39.0h0M30.5 21.1h0M64.1 49.6h0M10.4 14.8h0" stroke="#7482c2" stroke-width="1.5" opacity="0.6"/>
</g></g>
<filter id="f6" x="0" y="0" width="1" height="1" color-interpolation-filters="sRGB"><feTurbulence type="fractalNoise" baseFrequency="0.35" numOctaves="3" seed="15"/><feColorMatrix type="matrix" values="0.280 0 0 0 0.436  0.280 0 0 0 0.472  0.160 0 0 0 0.696  0 0 0 0 1"/></filter>
<g transform="translate(209,531.5)"><rect width="67" height="49.8" fill="#939cc6" filter="url(#f6)"/>
<clipPath id="cf6"><rect width="67" height="49.8"/></clipPath><g clip-path="url(#cf6)" fill="none" stroke-linecap="round" filter="url(#blr)">
<path d="M16.3 25.0h0M10.8 40.9h0M62.1 19.8h0M64.8 36.4h0M36.7 31.3h0M39.3 17.9h0M66.8 20.1h0M65.9 42.5h0M1.9 12.9h0M32.0 40.6h0M11.9 30.7h0M24.6 39.1h0M31.5 45.2h0M55.3 40.8h0M39.7 8.7h0M1.1 21.6h0M27.8 10.0h0M64.3 5.6h0M60.6 27.4h0M12.0 17.8h0M30.2 5.9h0M51.1 32.4h0M52.7 49.6h0M62.4 32.1h0M36.1 26.1h0M5.8 29.1h0M57.5 11.2h0M14.3 48.7h0M65.8 27.5h0M42.9 21.0h0M52.6 5.6h0M0.8 32.9h0M45.4 36.1h0M64.3 14.1h0M48.8 23.8h0M1.1 38.6h0M18.7 39.0h0M25.9 15.9h0M46.0 27.5h0M21.7 30.2h0" stroke="#c8d0ea" stroke-width="2.4" opacity="0.6"/>
<path d="M65.5 2.7h0M48.6 24.1h0M63.1 20.3h0M61.6 7.9h0M66.7 20.6h0M12.3 17.2h0M42.3 1.7h0M25.9 0.6h0M4.6 8.5h0M15.5 13.7h0M52.1 20.7h0M57.4 44.7h0M60.0 47.2h0M38.6 33.4h0M59.1 27.1h0M9.5 25.9h0M35.5 8.9h0M46.7 40.5h0M44.0 21.2h0M1.9 0.2h0M43.9 26.4h0M30.6 8.5h0M8.3 9.0h0M8.6 29.9h0M20.6 27.6h0M28.8 27.3h0M49.9 38.9h0M10.0 47.8h0M57.2 40.8h0M30.4 47.4h0M54.4 11.9h0M50.4 44.8h0M35.4 33.4h0M5.1 33.1h0M9.8 36.1h0M60.5 18.5h0M4.7 2.2h0M49.5 30.4h0M10.1 22.8h0M3.1 27.3h0M53.2 7.7h0M46.1 49.5h0M21.7 10.4h0M16.9 41.5h0M5.4 38.6h0M17.5 37.6h0M12.9 27.3h0M21.2 43.6h0M27.2 4.3h0M14.9 35.0h0M62.7 13.0h0M53.3 34.1h0M38.9 41.9h0M46.5 13.3h0M60.3 30.3h0M17.6 25.8h0M54.7 15.6h0M16.4 5.8h0M23.0 5.1h0M53.1 38.7h0M66.9 45.3h0M64.7 6.2h0M38.8 13.2h0M53.4 0.7h0M63.6 16.4h0M5.2 20.5h0M27.2 32.2h0M51.3 4.1h0M32.6 44.2h0M60.3 40.1h0M43.6 5.5h0M35.8 38.4h0M36.2 45.9h0M18.4 31.7h0M47.8 8.9h0M62.9 24.2h0M29.6 16.8h0M25.9 39.9h0M35.6 23.3h0M8.2 44.3h0" stroke="#6068aa" stroke-width="1.6" opacity="0.65"/>
<path d="M41.3 44.3h0M30.6 35.4h0M62.8 25.9h0M49.2 36.3h0M57.5 1.8h0M11.3 49.6h0M50.0 13.0h0M24.1 22.0h0M15.3 6.9h0M21.3 32.9h0M65.8 2.7h0M45.4 20.5h0M29.4 12.3h0M30.0 41.1h0M15.5 17.1h0M64.2 11.4h0M9.6 1.6h0M45.0 40.9h0M3.5 23.8h0M13.3 26.7h0M42.9 32.7h0M31.8 26.1h0M26.1 3.9h0M8.5 32.4h0M41.8 24.2h0M15.3 41.7h0" stroke="#5a3848" stroke-width="1.9" opacity="0.85"/>
<path d="M48.2 9.0h0" stroke="#4a2a38" stroke-width="2.6"/>
<path d="M50.9 11.0h0" stroke="#4a2a38" stroke-width="2.4"/>
<path d="M20.1 6.0h0" stroke="#4a2a38" stroke-width="2.2"/>
<path d="M6.7 39.8h0" stroke="#3a2030" stroke-width="2.6"/>
<path d="M8.7 42.8h0" stroke="#4a2a38" stroke-width="2.2"/>
<path d="M46.9 30.9h0" stroke="#5a3848" stroke-width="2.4"/>
<path d="M28.1 47.3h0" stroke="#3a2030" stroke-width="2.2"/>
<path d="M56.9 14.9h0" stroke="#4a2a38" stroke-width="2.2"/>
<path d="M13.4 17.4h0" stroke="#5a3848" stroke-width="1.8"/>
<path d="M36.9 19.9h0" stroke="#5a3848" stroke-width="1.8"/>
</g></g>
<filter id="f7" x="0" y="0" width="1" height="1" color-interpolation-filters="sRGB"><feTurbulence type="fractalNoise" baseFrequency="0.4" numOctaves="3" seed="17"/><feColorMatrix type="matrix" values="0.240 0 0 0 0.449  0.240 0 0 0 0.504  0.140 0 0 0 0.757  0 0 0 0 1"/></filter>
<g transform="translate(296.3,531.5)"><rect width="67" height="49.8" fill="#919fd3" filter="url(#f7)"/>
<clipPath id="cf7"><rect width="67" height="49.8"/></clipPath><g clip-path="url(#cf7)" fill="none" stroke-linecap="round" filter="url(#blr)">
<path d="M33.1 27.7h0M54.3 16.0h0M21.5 34.5h0M32.6 17.9h0M27.2 16.4h0M11.2 31.5h0M59.9 34.3h0M42.5 16.8h0M29.0 7.2h0M48.8 14.8h0M19.5 48.8h0M22.8 48.7h0M41.4 37.9h0M42.1 8.9h0M3.9 18.3h0M0.9 19.2h0M57.0 49.7h0M23.2 3.2h0M14.6 30.9h0M41.3 1.6h0M32.7 21.0h0M26.4 5.1h0M46.0 32.3h0M42.1 20.3h0M64.1 18.4h0M13.7 18.6h0M61.2 7.9h0M51.2 46.7h0M57.1 23.2h0M30.2 43.4h0M47.6 40.2h0M13.9 41.9h0M38.1 20.4h0M32.6 12.8h0M16.6 5.3h0M60.1 47.6h0M39.6 4.5h0M33.3 3.7h0M18.7 11.6h0M31.2 46.3h0M48.6 26.4h0M4.5 2.9h0M9.0 25.7h0M13.4 6.6h0M42.9 30.2h0M52.2 43.5h0M35.9 46.7h0M9.4 41.4h0M65.5 31.5h0M52.3 24.5h0M18.0 38.2h0M6.8 33.4h0M24.2 30.5h0M6.0 22.8h0M10.2 38.3h0M3.0 41.5h0M37.5 25.7h0M36.0 13.9h0M52.0 0.2h0M33.5 8.5h0M54.9 29.0h0M29.6 30.4h0M61.2 2.8h0M2.4 14.6h0M9.5 18.6h0M63.0 48.8h0M36.7 40.1h0M5.1 46.5h0M53.5 9.0h0M42.6 4.3h0M24.7 39.6h0M60.2 11.6h0M31.7 49.7h0M63.8 28.1h0M36.8 1.0h0M56.3 1.8h0M0.4 5.1h0M13.4 25.2h0M10.4 49.2h0M6.1 11.9h0M38.3 44.5h0M62.5 31.8h0M46.8 44.4h0M42.4 12.6h0M16.8 17.5h0M32.5 31.0h0M58.0 31.6h0M57.1 43.9h0M4.3 26.1h0M51.4 38.5h0M48.6 35.6h0M47.4 19.1h0M5.6 29.1h0M63.7 9.7h0M64.1 45.4h0M56.1 18.9h0M30.3 24.7h0M16.6 45.2h0M28.3 36.3h0M63.2 38.5h0M25.2 8.8h0M28.8 0.7h0M66.8 10.2h0M6.7 0.0h0M29.1 20.5h0M52.1 12.5h0M26.3 21.6h0M12.7 2.1h0M0.8 46.2h0M44.3 34.9h0M21.5 45.7h0M26.7 45.1h0M13.2 46.0h0M5.2 8.0h0M46.4 24.2h0M37.2 10.3h0M0.8 9.9h0M8.3 5.3h0M48.5 9.4h0M41.7 49.2h0M63.9 15.3h0M64.6 0.6h0M19.8 42.5h0M0.0 30.3h0M55.9 13.4h0M57.3 36.2h0M16.7 25.4h0M6.6 40.3h0M57.6 5.0h0M33.0 40.8h0M52.9 20.6h0M12.3 12.4h0M8.7 45.1h0M60.0 39.9h0M20.0 26.9h0M20.2 2.7h0M0.8 35.5h0M60.3 42.9h0M31.3 34.4h0M27.2 32.3h0M6.5 36.8h0M18.9 23.1h0M35.0 37.0h0M22.6 12.6h0M21.2 31.3h0M64.2 22.8h0M0.4 24.3h0M14.8 22.0h0M21.4 6.1h0M63.7 5.8h0M52.0 5.4h0M41.3 34.4h0M17.3 35.0h0M63.6 42.2h0M51.7 31.1h0M65.9 37.1h0M55.6 46.6h0M6.9 49.7h0M10.0 35.1h0M60.1 29.4h0M20.9 15.6h0M45.9 4.0h0M46.0 11.3h0M21.0 9.6h0M42.2 27.0h0M39.1 31.1h0M37.6 6.8h0M37.0 17.4h0M46.8 48.4h0M26.0 12.1h0" stroke="#3a4898" stroke-width="1.9" opacity="0.8"/>
<path d="M62.2 8.6h0M31.1 44.7h0M23.8 25.3h0M10.8 47.9h0M8.2 23.5h0M34.8 38.6h0M10.7 10.6h0M37.7 30.7h0M62.7 15.3h0M19.5 21.3h0M46.2 13.9h0M11.6 36.4h0M0.9 12.4h0M6.8 18.2h0M60.7 49.2h0M56.7 18.4h0M37.9 44.7h0M31.8 18.0h0M55.2 25.8h0M6.6 0.8h0M43.0 5.8h0M27.4 32.7h0" stroke="#c4d0ee" stroke-width="2.2" opacity="0.6"/>
</g></g>
<filter id="f8" x="0" y="0" width="1" height="1" color-interpolation-filters="sRGB"><feTurbulence type="fractalNoise" baseFrequency="0.2" numOctaves="3" seed="19"/><feColorMatrix type="matrix" values="0.320 0 0 0 0.346  0.320 0 0 0 0.377  0.180 0 0 0 0.679  0 0 0 0 1"/></filter>
<g transform="translate(370.3,531.5)"><rect width="67" height="49.8" fill="#8189c4" filter="url(#f8)"/>
<clipPath id="cf8"><rect width="67" height="49.8"/></clipPath><g clip-path="url(#cf8)" fill="none" stroke-linecap="round" filter="url(#blr)">
<path d="M21.7 30.9h0M0.6 48.9h0M55.1 49.8h0M17.6 9.9h0M3.7 9.7h0M1.6 34.4h0M24.5 40.6h0M51.0 17.4h0M11.2 17.3h0M12.7 7.4h0M59.5 21.8h0M63.4 48.8h0M44.5 12.4h0M9.9 12.3h0M49.4 25.5h0M20.0 0.9h0M23.5 19.6h0M19.8 20.7h0M33.1 28.2h0M56.9 14.7h0M6.4 15.1h0M14.5 28.7h0M31.9 16.0h0M6.4 37.4h0M41.8 31.0h0M47.1 42.6h0M31.6 34.9h0M33.8 25.2h0M20.6 12.1h0M58.6 48.9h0M8.6 29.9h0M35.8 15.9h0M32.5 43.2h0M33.0 48.0h0M27.3 22.6h0M43.2 25.0h0M0.9 21.0h0M40.1 34.4h0M61.0 33.8h0M6.9 26.6h0M42.3 15.3h0M20.7 42.4h0M1.5 13.4h0M16.9 48.9h0M7.0 22.4h0M49.9 39.2h0M38.5 45.0h0M33.4 6.3h0M55.5 3.1h0M5.2 45.3h0M30.3 7.3h0M59.5 9.4h0M30.4 0.7h0M9.6 24.0h0M47.0 6.4h0M51.0 32.1h0M45.1 48.1h0M43.8 36.7h0M66.1 9.4h0M56.4 30.0h0M51.7 36.7h0M38.2 40.6h0M15.4 14.1h0M35.1 41.0h0M21.5 27.3h0M63.0 39.9h0M64.1 28.5h0M36.8 27.7h0M60.4 12.6h0M43.3 3.3h0M0.1 43.0h0M36.1 11.9h0M28.3 37.5h0M14.9 3.5h0M37.7 19.3h0M54.9 38.8h0M26.0 27.7h0M18.4 45.3h0M30.7 29.9h0M38.5 4.9h0M39.5 12.2h0M11.1 43.2h0M54.4 44.1h0M45.0 18.3h0M35.6 31.9h0M11.5 47.8h0M61.5 1.8h0M57.6 45.3h0M63.2 21.3h0M3.7 28.4h0M30.0 21.0h0M15.6 22.3h0M4.8 4.5h0M13.6 32.9h0M55.7 7.7h0M12.4 21.2h0M43.3 43.5h0M62.2 43.1h0M24.3 5.8h0M14.7 18.9h0M40.9 7.5h0M54.7 11.1h0M24.4 34.9h0M40.1 49.2h0M9.4 38.8h0M48.5 9.7h0M54.9 18.8h0M27.2 45.0h0M41.2 38.5h0M48.4 36.1h0M2.3 17.9h0M23.8 44.8h0M7.7 19.4h0M43.4 28.1h0M12.6 26.0h0M51.2 21.7h0M64.9 1.0h0M27.4 17.3h0M48.9 29.0h0M37.2 35.5h0M66.4 21.7h0M9.6 0.2h0M59.3 27.1h0M41.0 19.3h0M26.3 11.3h0M51.9 48.6h0M11.5 35.9h0M66.1 34.2h0M37.6 8.2h0M61.0 15.8h0M0.0 27.1h0M36.3 47.5h0M40.2 26.0h0M12.4 39.6h0M20.8 38.6h0M46.5 38.6h0M57.6 40.8h0M48.3 2.3h0M45.2 31.7h0M50.5 5.7h0" stroke="#464ea2" stroke-width="1.8" opacity="0.7"/>
<path d="M4.9 29.6h0M66.3 17.1h0M36.4 18.6h0M49.6 34.1h0M40.1 48.6h0M47.1 17.1h0M25.5 31.6h0M46.4 11.1h0M54.2 22.3h0M51.8 4.5h0M21.3 0.9h0M27.9 12.7h0M23.2 11.0h0M57.1 31.6h0M23.4 24.8h0M12.4 46.9h0M60.7 28.5h0M14.5 2.7h0M28.0 18.8h0M57.0 7.3h0M4.1 22.0h0M2.8 33.0h0M32.7 43.5h0M62.7 11.7h0M63.7 4.0h0M30.6 48.8h0M3.7 15.2h0M20.7 18.0h0M66.5 9.5h0M55.2 13.3h0M6.7 49.1h0M13.7 28.8h0M21.3 31.1h0M45.4 37.3h0M8.2 41.3h0M54.2 38.4h0" stroke="#c2cae8" stroke-width="1.8" opacity="0.65"/>
<path d="M18.7 25.0h0M37.8 23.0h0M34.7 10.1h0M7.4 12.7h0M52.2 1.3h0M23.6 21.0h0M57.3 46.7h0M31.1 39.7h0M15.3 10.8h0M53.8 13.5h0M18.4 2.4h0M11.4 30.5h0M5.6 39.1h0M5.5 48.4h0M8.8 7.1h0M16.2 42.7h0M13.6 20.4h0M53.8 19.6h0M6.0 20.4h0M54.4 27.3h0M60.1 26.6h0M36.7 4.5h0M45.6 29.4h0M43.1 7.7h0M66.7 10.2h0M25.7 37.5h0M9.0 44.5h0M33.2 18.1h0M24.6 3.5h0M34.8 31.2h0" stroke="#2a2450" stroke-width="1.6" opacity="0.85"/>
<path d="M3.4 47.3h0" stroke="#201830" stroke-width="2.8"/>
<path d="M54.9 5.0h0" stroke="#201830" stroke-width="2.2"/>
</g></g>
<filter id="f9" x="0" y="0" width="1" height="1" color-interpolation-filters="sRGB"><feTurbulence type="fractalNoise" baseFrequency="0.55" numOctaves="3" seed="23"/><feColorMatrix type="matrix" values="0.240 0 0 0 0.504  0.220 0 0 0 0.576  0.160 0 0 0 0.716  0 0 0 0 1"/></filter>
<g transform="translate(135.8,589.6)"><rect width="67" height="49.8" fill="#9fafcb" filter="url(#f9)"/>
<clipPath id="cf9"><rect width="67" height="49.8"/></clipPath><g clip-path="url(#cf9)" fill="none" stroke-linecap="round" filter="url(#blr)">
<path d="M33.9 22.6h0M37.4 19.1h0M55.9 7.9h0M30.2 38.0h0M40.6 45.1h0M19.3 17.8h0M20.4 6.6h0M5.0 25.6h0M20.0 28.9h0M64.4 49.5h0M52.2 16.5h0M25.7 44.8h0M15.7 41.0h0M16.4 22.3h0M37.3 47.8h0M49.0 41.8h0M23.4 17.4h0M58.3 29.1h0M48.2 4.9h0M4.2 21.3h0M20.6 13.3h0M54.7 45.8h0M15.0 5.0h0M12.7 9.2h0M48.5 19.0h0M65.6 0.9h0M35.9 6.6h0M56.9 19.0h0M16.1 29.0h0M58.5 0.8h0M15.4 45.0h0M28.2 4.8h0M62.4 47.2h0M28.6 9.8h0M1.8 37.0h0M51.7 36.7h0M53.2 23.4h0M34.5 19.4h0M18.4 47.8h0M17.0 34.1h0M36.4 29.4h0M47.1 25.8h0M11.2 3.7h0M55.0 12.7h0M45.7 15.1h0M66.7 19.9h0M24.2 39.3h0M4.5 7.7h0M34.8 33.0h0M8.9 47.1h0M42.1 36.3h0M48.0 9.4h0M11.1 19.0h0M28.7 22.0h0M15.0 48.6h0M6.6 39.7h0M20.2 41.9h0M50.1 12.3h0M24.4 7.3h0M64.1 37.5h0M31.1 27.4h0M5.7 31.9h0M3.6 14.1h0M32.9 17.0h0M19.5 32.5h0M42.7 5.9h0M16.1 1.7h0M23.0 43.4h0M0.0 1.2h0M10.2 27.2h0M21.9 35.6h0M49.0 32.6h0M32.3 42.8h0M66.2 6.5h0M43.5 20.1h0M57.3 4.2h0M61.2 37.4h0M34.1 11.8h0M55.2 49.4h0M2.4 26.7h0M20.5 2.8h0M51.9 49.3h0M40.3 1.8h0M36.3 41.4h0M1.0 16.5h0M17.8 36.8h0M52.8 41.5h0M0.1 32.4h0M1.3 40.3h0M62.3 40.1h0M54.2 27.5h0M31.2 48.7h0M60.6 25.9h0M23.9 47.2h0M47.0 48.8h0M3.9 34.2h0M1.5 12.1h0M10.4 30.5h0M24.7 30.7h0M63.4 27.1h0M50.4 22.7h0M42.2 13.7h0M48.1 37.5h0M0.8 20.0h0M38.5 13.0h0M61.5 3.0h0M66.2 39.4h0M59.2 49.5h0M52.2 7.7h0M7.2 27.8h0M41.6 42.3h0M11.6 15.2h0M27.0 27.0h0M51.5 25.8h0M54.3 3.8h0M62.6 9.7h0M61.9 13.8h0M16.1 17.5h0M41.8 32.2h0M61.8 33.6h0M29.0 33.9h0M41.4 27.3h0M39.0 9.7h0M27.1 37.3h0M24.1 20.3h0M59.6 20.3h0M10.8 36.1h0M9.2 21.3h0M45.4 43.5h0M29.0 14.2h0M66.9 22.9h0M12.4 23.5h0M8.7 33.3h0M0.4 5.4h0M51.5 0.8h0M40.1 49.1h0M66.5 27.3h0M13.5 12.8h0M25.4 33.5h0M20.7 24.9h0M33.2 5.3h0M57.7 14.5h0M32.4 31.3h0M59.9 42.6h0M38.6 27.4h0M59.9 17.2h0M61.7 23.1h0M65.9 13.2h0M24.0 11.0h0M36.8 23.8h0M39.3 4.8h0M52.2 30.0h0M38.9 31.1h0M12.2 45.2h0M8.6 2.3h0M46.9 0.3h0M9.9 42.7h0M30.8 7.9h0M4.8 2.2h0M56.4 43.1h0M23.9 14.4h0M66.8 31.6h0M10.2 38.9h0M51.8 44.7h0M62.3 18.8h0M29.1 41.3h0M42.8 9.7h0M45.6 40.2h0M13.4 33.4h0M58.7 9.2h0" stroke="#627aa8" stroke-width="1.5" opacity="0.75"/>
<path d="M9.7 24.4h0M33.8 48.2h0M54.4 39.4h0M45.6 7.8h0M61.2 21.6h0M39.0 5.0h0M20.6 41.9h0M8.3 4.2h0M21.8 17.4h0M32.9 24.1h0M12.2 0.1h0M36.1 27.9h0M47.9 22.0h0M25.7 32.2h0M60.7 33.0h0M1.8 14.9h0M64.6 48.0h0M20.0 10.6h0M0.3 6.2h0M4.8 48.9h0M63.4 16.8h0M1.8 45.6h0M41.6 45.0h0M53.9 33.5h0M44.9 34.9h0M6.7 20.3h0M24.8 24.1h0M56.3 3.7h0M46.8 31.2h0M33.8 18.3h0M66.3 40.6h0M12.7 21.3h0M29.1 7.0h0M56.4 44.2h0M17.2 35.6h0M61.1 4.5h0M41.6 32.6h0M61.2 9.2h0M61.2 39.9h0M13.9 48.5h0" stroke="#d0dcec" stroke-width="1.4" opacity="0.6"/>
<path d="M18.1 19.9h0" stroke="#3a2420" stroke-width="2.2"/>
<path d="M36.9 34.9h0" stroke="#3a2018" stroke-width="2.6"/>
<path d="M34.8 32.9h0" stroke="#3a2420" stroke-width="1.8"/>
<path d="M50.2 23.4h0" stroke="#3a2420" stroke-width="2.2"/>
<path d="M6.7 6.0h0" stroke="#404860" stroke-width="1.6"/>
<path d="M12.1 27.4h0" stroke="#404860" stroke-width="1.6"/>
<path d="M40.2 10.0h0" stroke="#404860" stroke-width="1.6"/>
</g></g>
<filter id="f10" x="0" y="0" width="1" height="1" color-interpolation-filters="sRGB"><feTurbulence type="fractalNoise" baseFrequency="0.55" numOctaves="2" seed="25"/><feColorMatrix type="matrix" values="0.200 0 0 0 0.618  0.200 0 0 0 0.673  0.120 0 0 0 0.807  0 0 0 0 1"/></filter>
<g transform="translate(209,589.6)"><rect width="67" height="49.8" fill="#b7c5dd" filter="url(#f10)"/>
<clipPath id="cf10"><rect width="67" height="49.8"/></clipPath><g clip-path="url(#cf10)" fill="none" stroke-linecap="round" filter="url(#blr)">
<path d="M5.6 8.6h0M45.8 8.0h0M63.6 42.0h0M49.7 23.2h0M55.4 12.1h0M40.4 18.5h0M32.9 48.0h0M14.5 37.6h0M51.3 4.4h0M66.5 22.3h0M36.4 15.0h0M37.3 47.8h0M23.4 36.5h0M52.5 43.3h0M46.3 21.5h0M22.7 19.1h0M25.0 44.1h0M17.8 2.2h0M62.4 3.0h0M26.2 9.1h0M13.2 46.9h0M29.2 31.6h0M55.6 26.1h0M54.9 38.4h0M40.5 28.1h0M59.4 33.6h0M55.0 47.4h0M23.7 31.1h0M12.0 36.4h0M47.4 43.8h0M14.6 28.9h0M36.9 29.8h0M27.4 0.5h0M62.1 45.0h0M10.7 45.5h0M39.9 0.4h0M42.6 15.0h0M25.0 5.3h0M55.8 32.3h0M28.3 49.0h0M14.0 34.1h0M18.0 43.2h0M11.9 7.5h0M41.4 44.9h0M6.6 20.5h0M32.4 26.2h0M14.0 11.6h0M17.7 36.5h0M43.8 2.6h0M64.9 25.9h0M60.4 41.6h0M17.5 15.3h0M51.8 35.7h0M21.1 7.8h0M55.2 42.1h0M42.9 29.6h0M6.9 17.0h0M18.7 25.0h0M18.8 30.4h0M9.4 9.5h0M45.9 27.5h0M38.5 36.8h0M48.8 19.8h0M47.1 34.9h0M45.7 16.5h0M58.2 27.5h0M66.7 47.6h0M60.1 9.8h0M63.5 13.2h0M14.0 26.2h0M45.2 13.6h0M65.2 3.6h0M60.3 16.0h0M32.5 40.9h0M58.2 2.9h0M40.1 41.3h0M10.4 49.0h0M55.6 19.8h0M4.7 13.3h0M21.8 1.6h0M47.9 25.6h0M37.1 12.0h0M43.9 23.7h0M5.6 48.0h0M12.7 17.0h0M61.0 31.4h0M30.7 23.1h0M41.3 36.0h0M37.2 44.1h0M2.4 27.0h0M51.5 28.6h0M17.7 20.9h0M14.7 42.0h0M61.6 28.1h0M22.4 25.5h0M35.1 9.1h0M26.1 22.4h0M35.0 5.0h0M50.1 33.3h0M10.2 41.7h0M16.5 46.6h0M30.4 10.2h0M37.2 2.2h0M52.7 0.1h0M36.1 40.6h0M65.6 19.5h0M49.2 39.9h0M63.7 38.6h0M4.2 44.9h0M63.5 22.2h0M7.6 2.8h0M48.4 14.3h0M2.3 33.3h0M40.6 38.6h0M1.7 19.6h0M1.4 48.0h0M8.1 29.1h0M28.8 7.9h0M45.8 0.7h0M26.1 13.8h0M65.6 7.4h0M31.9 12.5h0M6.2 35.4h0M50.6 17.0h0M58.7 44.6h0M36.5 32.6h0M21.1 49.5h0M61.2 48.5h0M43.5 41.9h0M20.6 42.0h0M13.3 2.7h0M2.0 30.6h0M22.5 11.3h0M9.0 24.6h0M66.6 31.6h0M55.4 1.3h0M28.3 27.1h0M8.8 34.1h0M29.8 3.5h0M29.7 18.7h0M11.5 31.8h0M48.4 29.3h0M65.7 45.0h0M14.8 19.8h0M21.9 46.5h0M6.1 41.7h0M0.5 11.6h0M63.1 18.3h0M45.9 11.0h0M44.8 47.1h0M45.7 39.2h0M2.8 16.5h0M40.9 32.8h0M0.2 40.7h0M0.7 8.8h0M33.9 19.5h0M53.5 16.6h0M60.0 38.8h0M2.9 0.4h0M24.2 39.7h0M40.7 22.3h0M36.7 25.5h0M41.7 6.8h0M28.9 38.2h0M47.1 3.2h0M20.4 16.4h0M62.1 7.3h0M27.7 46.1h0M23.6 14.8h0M2.7 24.2h0M65.3 35.4h0M64.8 0.4h0M33.6 37.8h0M40.0 13.1h0M58.3 22.5h0M50.6 7.1h0M34.0 28.8h0M38.2 21.0h0M38.7 5.7h0M24.8 26.9h0M57.6 16.5h0M33.7 2.5h0M53.3 10.0h0M47.9 48.1h0M32.8 44.5h0M24.7 0.2h0M0.3 1.5h0M17.0 10.9h0M1.6 37.3h0M29.7 41.6h0M53.4 24.3h0M7.8 38.6h0M56.7 35.1h0M60.1 24.7h0M55.2 5.3h0M9.1 14.7h0M20.7 4.3h0M43.2 26.6h0M41.0 10.5h0M66.7 42.1h0M45.2 32.0h0M17.3 6.4h0M52.9 31.7h0M42.1 47.9h0M43.3 19.1h0M20.2 38.1h0M14.9 0.2h0M33.6 32.8h0M10.1 20.6h0M31.2 16.3h0M20.3 33.6h0M31.8 0.4h0M52.4 48.4h0M4.9 4.7h0M57.3 7.3h0M17.6 40.0h0M26.2 18.9h0M33.5 22.4h0M65.2 10.2h0M30.0 35.1h0M49.6 37.2h0M60.5 5.0h0M4.7 39.4h0M11.8 28.6h0M14.4 6.2h0M66.8 37.8h0M60.5 12.8h0M2.2 3.9h0M63.4 33.4h0M55.4 28.8h0M0.5 14.9h0M8.5 6.5h0M5.8 24.1h0M44.4 36.3h0M50.6 45.4h0M0.4 43.8h0M67.0 13.3h0M8.1 43.8h0M28.9 14.2h0M0.0 5.7h0M10.5 0.3h0M26.3 32.7h0M15.6 49.7h0M35.7 35.7h0M18.1 27.7h0M15.9 31.4h0M3.0 10.4h0M64.0 49.4h0M39.5 25.1h0M5.7 32.6h0M6.9 11.4h0M19.6 12.1h0M5.4 27.3h0M58.0 48.9h0M52.1 38.5h0M63.7 30.3h0M17.6 33.7h0M49.9 10.9h0M48.8 1.0h0M21.5 22.7h0M11.1 11.9h0M0.0 25.6h0M41.1 4.1h0M31.5 6.1h0M59.4 19.5h0M3.0 41.5h0M21.3 28.7h0M24.9 49.5h0M10.5 3.4h0M52.2 19.4h0M38.4 9.0h0M15.0 23.3h0M44.4 49.8h0M37.7 17.6h0M65.0 15.7h0M61.6 0.3h0M14.8 14.2h0M51.2 13.6h0M8.1 46.7h0M28.2 24.2h0M33.7 15.1h0M30.4 46.2h0M26.3 41.5h0M0.3 22.0h0M15.2 8.9h0M58.4 0.1h0M18.3 49.0h0M26.6 36.2h0M61.2 36.4h0M31.5 30.1h0M66.6 28.4h0M11.9 23.7h0M12.3 39.3h0M26.7 30.0h0M45.3 5.3h0M39.6 49.8h0M3.8 21.3h0M19.2 46.2h0M57.2 39.8h0M49.9 42.5h0M0.2 28.5h0M6.5 0.1h0M58.3 30.3h0M9.7 17.4h0M57.5 10.0h0M19.7 19.0h0M51.0 25.7h0M26.9 3.3h0" stroke="#323c60" stroke-width="1.9" opacity="0.9"/>
<path d="M28.2 28.1h0M37.4 29.3h0M53.7 48.2h0M45.1 40.3h0M38.2 23.5h0M4.2 42.9h0M43.0 31.6h0M11.1 28.9h0M40.6 7.8h0M27.6 37.0h0M52.3 35.5h0M45.1 47.4h0M53.0 3.4h0M24.3 1.8h0M60.8 34.3h0M14.7 8.9h0M32.2 0.3h0M43.8 14.3h0M19.2 49.7h0M60.6 43.6h0M59.6 28.4h0M3.7 18.8h0M56.2 24.4h0M19.9 15.9h0M9.3 18.3h0M37.7 48.0h0M64.5 24.2h0M14.4 47.9h0M0.6 3.7h0M65.8 34.0h0M52.8 9.7h0M20.9 35.9h0M27.4 46.0h0M40.0 39.8h0M12.0 22.5h0M51.5 42.3h0M52.6 28.0h0M21.3 23.0h0M13.7 37.3h0M22.5 7.9h0M25.7 15.5h0M63.0 1.9h0M53.6 18.2h0M21.5 43.9h0M12.8 0.4h0" stroke="#4a3038" stroke-width="1.9" opacity="0.85"/>
<path d="M53.6 18.4h0" stroke="#181828" stroke-width="2.8"/>
<path d="M30.8 16.4h0" stroke="#302028" stroke-width="2.4"/>
<path d="M49.6 27.4h0" stroke="#282838" stroke-width="2.4"/>
</g></g>
<filter id="f11" x="0" y="0" width="1" height="1" color-interpolation-filters="sRGB"><feTurbulence type="fractalNoise" baseFrequency="0.45" numOctaves="3" seed="27"/><feColorMatrix type="matrix" values="0.180 0 0 0 0.604  0.180 0 0 0 0.659  0.100 0 0 0 0.840  0 0 0 0 1"/></filter>
<g transform="translate(296.3,589.6)"><rect width="67" height="49.8" fill="#b1bfe3" filter="url(#f11)"/>
<clipPath id="cf11"><rect width="67" height="49.8"/></clipPath><g clip-path="url(#cf11)" fill="none" stroke-linecap="round" filter="url(#blr)">
<path d="M38.9 9.7h0M64.7 46.0h0M31.3 33.0h0M14.4 11.0h0M19.3 34.5h0M14.2 48.4h0M4.7 9.6h0M6.0 38.3h0M24.6 23.5h0M21.8 31.7h0M27.1 10.4h0M28.8 15.2h0M7.4 41.0h0M45.6 33.1h0M59.1 19.7h0M27.1 33.3h0M0.4 23.1h0M35.9 17.2h0M1.5 35.1h0M0.6 28.1h0M10.3 1.7h0M10.1 34.1h0M48.8 18.1h0M43.7 23.7h0M33.4 43.6h0M20.9 43.3h0M0.4 4.2h0M2.1 17.2h0M56.2 5.9h0M47.3 38.6h0M54.2 39.5h0M9.4 8.9h0M53.1 36.8h0M59.6 6.9h0M22.6 3.4h0M36.8 34.3h0M18.7 41.1h0M6.1 46.7h0M60.4 15.9h0M6.4 32.5h0M59.5 0.6h0M42.4 42.7h0M30.7 28.4h0M53.9 11.9h0M37.0 26.7h0M22.4 46.7h0M8.1 17.1h0M44.4 27.4h0M8.5 27.2h0M49.2 12.0h0M29.2 22.7h0M19.9 2.0h0M3.3 49.4h0M49.6 21.9h0M44.7 13.4h0M47.6 47.4h0M3.9 20.5h0M41.3 7.1h0M50.1 42.7h0M17.8 31.8h0M53.5 16.9h0M48.9 7.3h0M17.8 11.9h0M14.5 39.7h0M12.9 7.9h0M48.9 29.2h0M44.5 44.8h0M30.1 1.9h0M12.7 25.7h0M34.3 11.3h0M39.7 46.5h0M60.6 28.7h0M32.2 6.4h0M41.0 35.5h0M66.6 30.0h0M66.6 20.1h0M19.3 26.4h0M66.1 14.8h0M15.8 36.0h0M26.0 27.8h0M10.1 42.5h0M61.6 37.6h0M60.2 23.4h0M11.0 21.9h0M62.0 44.0h0M2.2 44.4h0M45.7 18.4h0M53.1 46.7h0M56.9 2.8h0M45.0 4.6h0M63.4 2.2h0M3.8 0.1h0M8.4 49.1h0M56.0 45.7h0M18.1 48.3h0M48.8 34.1h0M19.1 19.8h0M50.8 25.7h0M28.2 42.8h0M3.1 26.4h0M47.8 0.5h0M41.9 31.0h0M16.3 6.8h0M57.1 35.6h0M34.2 47.7h0M0.9 12.7h0M37.7 14.3h0M38.0 43.8h0M49.0 4.3h0M20.4 7.0h0M53.1 8.5h0M54.0 3.7h0M21.5 38.5h0M38.9 17.5h0M21.4 28.6h0M19.7 14.2h0M62.9 48.6h0M10.6 45.6h0M7.3 21.7h0M16.8 22.2h0M62.0 10.4h0M39.9 20.2h0M13.7 44.6h0M57.7 41.0h0M46.7 24.1h0M50.8 31.6h0M2.6 31.8h0M32.7 39.9h0M53.1 23.3h0M34.6 14.2h0M52.5 28.9h0M38.1 37.2h0M27.9 25.3h0M66.9 1.2h0M24.9 41.1h0M15.8 16.5h0M36.1 7.6h0M22.5 20.7h0M10.5 37.4h0M44.4 36.0h0M28.4 18.9h0M55.0 30.5h0M53.9 42.9h0M63.0 35.0h0M58.7 48.3h0M9.9 31.2h0M28.5 36.9h0M39.5 24.6h0M66.9 47.9h0M51.4 1.8h0M62.0 21.1h0M4.4 5.3h0M16.5 0.8h0M66.1 43.1h0M6.3 13.7h0M24.8 49.4h0M36.8 20.9h0M36.4 49.6h0M45.8 7.6h0M32.2 16.2h0M13.3 0.4h0M42.3 48.1h0M58.4 31.0h0M33.3 30.3h0M42.0 16.7h0M33.6 23.8h0M24.2 6.2h0M65.9 37.0h0M34.1 0.9h0M30.2 45.6h0M31.1 49.7h0M19.9 23.1h0M23.8 13.4h0M53.0 33.6h0M26.8 1.9h0M62.8 26.6h0M7.3 1.2h0M13.1 30.0h0M16.3 26.6h0M23.5 0.1h0M57.3 11.4h0M62.4 18.0h0M11.8 18.0h0M44.5 0.2h0M58.0 26.0h0M33.9 36.9h0M63.2 32.1h0M30.0 9.5h0M49.9 15.2h0M63.9 7.1h0" stroke="#6272ba" stroke-width="2.2" opacity="0.8"/>
<path d="M9.9 30.7h0M40.7 19.1h0M41.4 28.2h0M2.9 26.4h0M58.9 36.6h0M25.3 11.3h0M8.6 40.3h0M29.6 25.0h0M14.9 26.4h0M16.5 4.6h0M22.3 34.2h0M34.2 37.2h0M60.8 8.3h0M44.8 44.3h0M55.3 31.8h0M31.5 47.2h0M30.0 31.2h0M65.3 26.3h0M59.1 19.1h0M8.0 7.5h0" stroke="#d4def2" stroke-width="2.4" opacity="0.6"/>
<path d="M53.6 38.8h0" stroke="#403040" stroke-width="1.8"/>
</g></g>
<filter id="f12" x="0" y="0" width="1" height="1" color-interpolation-filters="sRGB"><feTurbulence type="fractalNoise" baseFrequency="0.4" numOctaves="3" seed="29"/><feColorMatrix type="matrix" values="0.260 0 0 0 0.478  0.260 0 0 0 0.533  0.160 0 0 0 0.716  0 0 0 0 1"/></filter>
<g transform="translate(370.3,589.6)"><rect width="67" height="49.8" fill="#9ba9cb" filter="url(#f12)"/>
<clipPath id="cf12"><rect width="67" height="49.8"/></clipPath><g clip-path="url(#cf12)" fill="none" stroke-linecap="round" filter="url(#blr)">
<path d="M55.4 10.6h0M63.1 24.6h0M26.6 30.7h0M11.4 9.6h0M28.3 11.4h0M44.9 20.7h0M25.7 13.8h0M14.8 35.7h0M60.5 17.4h0M53.9 15.6h0M50.9 11.9h0M38.1 20.3h0M58.4 37.9h0M7.2 4.9h0M15.9 47.4h0M63.0 0.9h0M1.5 31.2h0M63.5 44.2h0M46.4 36.8h0M32.4 24.4h0M57.4 5.4h0M10.4 38.4h0M11.3 48.2h0M51.2 22.7h0M39.1 48.5h0M24.6 10.2h0M46.2 45.0h0M26.1 34.2h0M32.0 47.3h0M64.5 6.4h0M62.9 37.8h0M9.6 28.8h0M18.2 2.4h0M3.9 18.1h0M39.2 43.5h0M39.8 37.9h0M8.1 12.8h0M7.9 46.9h0M8.9 41.9h0M3.4 10.1h0M62.7 20.6h0M52.3 6.2h0M42.9 28.7h0M37.5 15.7h0M43.6 48.0h0M21.7 29.5h0M35.6 29.5h0M37.6 5.7h0M58.8 0.6h0M12.9 24.1h0M61.9 34.8h0M15.7 4.7h0M22.8 4.3h0M0.5 8.8h0M57.7 30.6h0M50.2 28.6h0M32.3 44.3h0M1.2 13.5h0M42.5 9.8h0M31.9 14.4h0M30.2 37.2h0M1.0 23.3h0M12.8 44.4h0M16.7 40.1h0M34.6 38.3h0M53.4 42.9h0M55.5 38.9h0M29.7 22.0h0M49.5 35.3h0M20.5 14.9h0M25.8 23.4h0M28.8 41.3h0M16.9 21.1h0M0.6 34.3h0M14.0 1.6h0M30.1 3.4h0M5.0 31.5h0M56.7 24.3h0M61.5 9.0h0M47.7 11.7h0M41.2 1.8h0M48.6 15.3h0M57.0 44.6h0M4.2 22.7h0M48.7 41.3h0M38.5 25.5h0M66.4 19.0h0M63.0 30.8h0M66.8 42.4h0M39.7 33.2h0M34.6 8.1h0M4.7 48.1h0M18.7 6.1h0M38.9 9.7h0M2.8 40.2h0M59.2 48.2h0M26.5 5.1h0M47.7 30.9h0M20.4 21.4h0M51.5 0.5h0M17.3 15.3h0M7.0 35.7h0M2.3 26.2h0M36.5 11.5h0M5.4 0.9h0M27.3 19.1h0M54.2 30.9h0M41.5 22.8h0M10.1 6.8h0M39.7 30.1h0M37.5 1.8h0M58.3 14.9h0M48.5 2.1h0M29.6 16.5h0M9.4 1.1h0M23.3 45.4h0M43.1 42.5h0M4.2 13.7h0M21.0 41.5h0M33.8 17.2h0M18.4 28.5h0M43.0 14.9h0M65.7 15.4h0M5.4 45.0h0M0.8 45.0h0M0.2 16.9h0M43.9 3.1h0M56.1 18.4h0M54.4 1.3h0M31.6 31.3h0M23.0 17.5h0M66.8 35.9h0M29.3 29.2h0M47.3 22.8h0M64.7 11.6h0M25.3 40.2h0M49.5 47.8h0M10.2 17.8h0M20.8 33.8h0M64.7 48.3h0M45.1 0.3h0M14.8 31.9h0M59.9 25.2h0M22.0 0.9h0M32.5 40.7h0M31.9 10.9h0M18.6 18.6h0M6.4 38.7h0M13.7 12.2h0M17.7 25.0h0" stroke="#6c7cae" stroke-width="1.7" opacity="0.65"/>
<path d="M22.1 3.5h0" stroke="#282030" stroke-width="2.4"/>
<path d="M33.5 14.9h0" stroke="#403038" stroke-width="2.2"/>
<path d="M42.9 13.4h0" stroke="#403038" stroke-width="2.0"/>
<path d="M5.4 12.4h0" stroke="#383040" stroke-width="2.0"/>
<path d="M25.5 19.9h0" stroke="#383040" stroke-width="2.0"/>
<path d="M16.8 36.4h0" stroke="#403038" stroke-width="2.0"/>
<path d="M22.1 41.3h0" stroke="#282030" stroke-width="2.4"/>
<path d="M46.9 47.8h0" stroke="#302028" stroke-width="2.2"/>
<path d="M10.7 25.9h0" stroke="#484058" stroke-width="1.8"/>
<path d="M56.9 29.9h0" stroke="#484058" stroke-width="1.8"/>
</g></g>
<filter id="f13" x="0" y="0" width="1" height="1" color-interpolation-filters="sRGB"><feTurbulence type="fractalNoise" baseFrequency="0.55" numOctaves="3" seed="33"/><feColorMatrix type="matrix" values="0.220 0 0 0 0.541  0.220 0 0 0 0.576  0.120 0 0 0 0.767  0 0 0 0 1"/></filter>
<g transform="translate(135.8,648)"><rect width="67" height="49.8" fill="#a6afd3" filter="url(#f13)"/>
<clipPath id="cf13"><rect width="67" height="49.8"/></clipPath><g clip-path="url(#cf13)" fill="none" stroke-linecap="round" filter="url(#blr)">
<path d="M5.8 29.1h0M26.6 45.6h0M41.2 26.0h0M62.9 14.2h0M56.9 21.0h0M45.3 48.2h0M54.1 30.1h0M54.0 1.2h0M28.7 42.8h0M50.5 22.5h0M15.4 17.3h0M28.8 5.7h0M62.8 32.3h0M35.5 9.1h0M21.6 20.5h0M9.7 16.7h0M24.5 36.7h0M60.8 0.4h0M9.2 42.6h0M0.7 12.9h0M37.8 26.5h0M14.6 37.5h0M47.7 0.3h0M47.7 18.8h0M33.0 28.7h0M43.6 40.0h0M12.1 9.5h0M52.9 42.8h0M53.5 16.2h0M39.8 13.5h0M27.1 18.9h0M33.3 0.1h0M29.3 24.8h0M60.9 35.3h0M50.7 4.2h0M57.9 2.3h0M45.2 28.2h0M64.2 18.4h0M20.7 8.9h0M18.6 15.8h0M4.6 47.6h0M49.2 47.6h0M52.8 25.9h0M3.2 1.1h0M10.4 27.9h0M50.3 28.3h0M48.9 39.9h0M55.0 12.9h0M9.6 2.5h0M6.0 6.6h0M59.7 8.5h0M50.3 8.2h0M35.5 16.1h0M26.1 27.8h0M2.0 42.5h0M1.2 20.1h0M35.6 43.8h0M64.2 1.3h0M29.5 46.6h0M45.0 7.3h0M46.2 15.9h0M12.3 12.6h0M40.8 45.4h0M18.3 4.2h0M42.7 16.4h0M56.9 31.9h0M14.7 41.0h0M25.3 0.2h0M43.2 22.2h0M15.4 3.6h0M62.3 10.2h0M24.4 41.4h0M48.7 11.3h0M33.4 19.9h0M25.2 4.0h0M62.9 27.0h0M65.9 43.3h0M21.1 44.0h0M2.1 39.2h0M25.9 23.9h0M40.3 4.5h0M23.1 48.8h0M62.8 6.4h0M22.1 3.7h0M37.2 4.6h0M60.2 20.8h0M17.8 10.8h0M66.5 5.0h0M43.1 2.7h0M2.4 32.2h0M14.4 23.4h0M63.1 47.7h0M32.6 6.3h0M30.3 38.7h0M46.8 44.7h0M21.9 27.1h0M54.0 46.3h0M27.3 49.3h0M58.0 46.7h0M6.4 23.8h0M64.0 36.9h0M39.8 19.6h0M60.3 40.7h0M59.8 17.1h0M38.6 23.2h0M54.7 8.7h0M16.5 49.7h0M35.9 49.7h0M20.1 31.9h0M46.5 36.7h0M25.8 16.0h0M26.0 12.6h0M15.3 33.9h0M49.4 15.9h0M10.1 19.8h0M55.7 40.7h0M31.6 16.2h0M34.9 35.8h0M11.0 47.6h0M7.3 32.8h0M37.1 0.3h0M20.0 35.2h0M3.7 13.2h0M5.0 18.6h0M28.0 31.1h0M41.7 49.4h0M18.6 27.7h0M18.3 46.4h0M60.2 4.7h0M41.0 35.1h0M16.5 31.0h0M14.6 26.9h0M0.9 9.9h0M26.8 39.1h0M8.6 45.6h0M0.0 34.9h0M66.5 26.8h0M38.2 40.4h0M21.0 13.4h0M31.8 43.8h0" stroke="#e6e9f6" stroke-width="1.6" opacity="0.85"/>
<path d="M34.2 29.7h0M20.3 46.3h0M48.9 37.9h0M30.7 41.6h0M49.2 29.5h0M7.1 22.4h0M65.0 27.8h0M25.4 31.3h0M9.5 16.4h0M52.2 23.5h0M25.9 48.5h0M34.9 22.5h0M5.5 29.7h0M33.1 14.0h0M62.4 31.0h0M36.2 42.9h0M46.0 19.1h0M30.5 48.2h0M40.8 0.7h0M57.1 20.6h0M20.1 24.1h0M13.7 33.2h0M41.5 23.0h0M46.4 41.5h0M54.0 49.4h0M42.7 42.2h0M49.5 12.5h0M35.7 11.9h0M63.2 40.3h0M52.7 12.1h0M11.4 9.2h0M25.5 16.9h0M50.0 19.9h0M66.6 2.7h0M26.6 43.6h0M33.6 33.5h0M56.8 31.6h0M11.5 2.5h0M65.7 20.5h0M34.7 5.5h0M33.8 17.6h0M45.5 30.3h0M56.9 3.5h0M59.6 26.9h0M15.1 41.6h0M1.2 36.8h0M12.3 14.0h0M54.6 40.6h0M37.4 36.5h0M12.5 48.7h0M31.5 1.9h0M6.8 33.2h0M60.9 4.3h0M1.6 16.6h0M26.8 13.4h0M0.1 5.3h0M47.2 32.9h0M42.8 35.4h0M21.1 49.4h0M8.7 44.9h0M31.5 11.4h0M23.8 28.1h0M17.6 47.9h0M6.3 38.4h0M6.5 47.0h0M50.2 47.7h0M43.7 6.1h0M63.2 46.9h0M18.5 12.4h0M38.3 14.7h0M42.2 14.2h0M4.8 42.2h0M41.5 27.3h0M12.2 38.5h0M57.3 8.4h0M20.6 4.9h0M21.3 15.2h0M56.5 25.1h0M4.0 23.7h0M5.6 18.8h0M24.1 0.7h0M61.6 22.8h0M18.6 37.4h0M28.4 10.7h0M58.0 14.5h0M25.5 34.6h0M18.2 34.3h0M37.8 25.7h0M44.1 11.2h0M4.4 15.1h0M61.9 0.8h0M33.2 49.8h0M6.6 5.9h0M14.6 46.2h0M45.9 3.6h0M48.4 44.1h0M1.9 27.8h0M59.9 47.8h0M0.7 49.7h0M0.4 41.1h0M66.3 12.1h0M15.0 9.0h0M59.0 40.2h0M29.7 5.5h0M54.3 37.6h0M57.3 45.5h0M39.5 49.7h0M12.6 5.6h0M10.7 34.1h0M46.1 15.3h0" stroke="#7c88c2" stroke-width="1.5" opacity="0.6"/>
</g></g>
<filter id="f14" x="0" y="0" width="1" height="1" color-interpolation-filters="sRGB"><feTurbulence type="fractalNoise" baseFrequency="0.5" numOctaves="3" seed="35"/><feColorMatrix type="matrix" values="0.220 0 0 0 0.490  0.220 0 0 0 0.537  0.120 0 0 0 0.744  0 0 0 0 1"/></filter>
<g transform="translate(209,648)"><rect width="67" height="49.8" fill="#99a5cd" filter="url(#f14)"/>
<clipPath id="cf14"><rect width="67" height="49.8"/></clipPath><g clip-path="url(#cf14)" fill="none" stroke-linecap="round" filter="url(#blr)">
<path d="M21.1 38.3h0M5.9 14.3h0M26.2 44.6h0M23.3 29.6h0M6.7 8.6h0M46.8 27.5h0M48.3 22.0h0M32.8 10.0h0M15.0 2.5h0M11.2 22.4h0M39.6 36.7h0M43.1 40.6h0M49.4 0.4h0M59.5 24.7h0M29.2 4.4h0M10.3 3.3h0M6.2 39.2h0M25.0 38.8h0M66.0 31.0h0M13.8 7.9h0M64.6 24.5h0M22.5 47.6h0M11.4 43.7h0M0.7 21.8h0M30.4 28.3h0M54.1 31.3h0M55.7 40.7h0M27.3 19.6h0M54.8 7.1h0M66.1 40.4h0M43.6 12.9h0M52.4 35.2h0M57.8 15.1h0M52.8 10.1h0M17.6 47.1h0M66.9 7.7h0M43.4 0.2h0M24.1 21.9h0M44.9 44.8h0M13.5 18.5h0M47.0 15.8h0M39.7 24.8h0M23.6 6.7h0M47.1 7.3h0M41.5 30.8h0M50.2 39.4h0M60.2 31.2h0M33.6 43.2h0M26.2 10.3h0M3.7 2.3h0M1.6 33.8h0M8.8 34.6h0M18.6 9.8h0M64.2 18.3h0M53.2 19.2h0M39.2 8.7h0M15.9 41.5h0M12.3 12.6h0M20.6 3.1h0M4.4 23.4h0" stroke="#d6dcf0" stroke-width="1.5" opacity="0.75"/>
<path d="M27.6 20.3h0M60.1 44.7h0M20.6 42.3h0M64.2 41.6h0M1.7 48.8h0M17.4 39.8h0M11.4 28.7h0M26.9 34.3h0M51.5 42.1h0M55.7 43.5h0M41.5 26.5h0M52.4 31.0h0M53.3 19.0h0M13.1 39.6h0M36.7 30.1h0M44.8 43.9h0M10.2 3.4h0M19.2 17.9h0M32.3 42.8h0M52.1 22.7h0M58.4 29.4h0M38.9 3.0h0M5.5 18.2h0M10.5 10.1h0M52.9 37.9h0M7.3 30.9h0M25.8 30.5h0M17.7 27.1h0M49.5 34.0h0M7.5 45.1h0M25.9 43.1h0M33.1 48.1h0M63.5 8.4h0M19.5 36.1h0M55.4 35.0h0M61.7 26.7h0M33.8 31.1h0M55.1 4.8h0M17.2 32.6h0M32.5 10.5h0M44.5 5.2h0M48.2 18.1h0M20.2 7.9h0M32.1 35.3h0M36.4 1.0h0M5.3 6.2h0M64.5 35.7h0M21.0 12.3h0M60.6 32.1h0M59.9 2.2h0M3.7 46.2h0M13.7 1.1h0M40.3 42.0h0M46.9 38.0h0M10.4 22.7h0M3.7 38.3h0M52.9 27.2h0M51.6 3.5h0M42.9 18.3h0M1.1 11.4h0M37.4 25.6h0M66.4 48.1h0M9.8 41.6h0M5.2 0.7h0M51.9 47.0h0M56.0 8.4h0M37.7 35.5h0M65.5 0.2h0M13.6 34.5h0M43.8 46.8h0M17.2 46.9h0M54.8 1.8h0M7.3 15.2h0M60.7 20.9h0M33.4 2.9h0M48.2 5.1h0M4.4 25.5h0M32.1 16.3h0M45.8 9.7h0M66.0 44.6h0M66.2 27.6h0M7.0 23.4h0M38.7 10.6h0M23.8 7.2h0M49.3 0.5h0M35.5 17.9h0M41.6 31.5h0M58.8 34.6h0M42.9 14.5h0M36.6 14.1h0M47.7 27.2h0M27.7 5.6h0M18.9 24.0h0M14.5 30.3h0M41.9 35.4h0M29.2 44.5h0M8.3 36.0h0M11.2 19.2h0M19.5 29.6h0M14.3 49.6h0M33.9 23.3h0M24.6 17.1h0M15.1 12.7h0M58.1 38.3h0M38.7 47.8h0M26.3 14.5h0M30.3 31.1h0M1.5 43.6h0M33.4 38.8h0M45.9 35.0h0M35.3 45.3h0M1.0 19.2h0M49.3 21.6h0M0.1 38.4h0M64.6 24.7h0M41.7 22.4h0M47.4 13.9h0M17.0 6.0h0M51.9 10.1h0M11.1 44.8h0M22.6 4.2h0M47.3 24.2h0M1.2 34.0h0M36.5 40.6h0M61.8 13.0h0M17.0 43.5h0M7.0 10.0h0M24.8 36.8h0M24.6 20.4h0M67.0 40.3h0M28.3 37.4h0M46.9 31.7h0M22.7 45.5h0M10.4 6.9h0M60.9 41.1h0M56.5 16.8h0M7.9 27.8h0M63.5 31.1h0M40.3 38.8h0M23.8 10.9h0M58.0 22.4h0M1.3 26.7h0M35.9 6.4h0M37.4 22.0h0M2.2 8.4h0M59.0 8.5h0M49.4 39.6h0M23.9 39.8h0M64.5 3.5h0M8.7 0.7h0" stroke="#6e7aba" stroke-width="1.6" opacity="0.7"/>
<path d="M16.8 3.0h0" stroke="#2c1410" stroke-width="3.0"/>
<path d="M18.1 1.5h0" stroke="#2c1410" stroke-width="2.4"/>
<path d="M2.0 35.9h0" stroke="#402018" stroke-width="2.6"/>
<path d="M28.1 48.8h0" stroke="#1c0c08" stroke-width="3.2"/>
<path d="M51.6 44.8h0" stroke="#1c0c08" stroke-width="3.0"/>
<path d="M54.9 42.3h0" stroke="#1c0c08" stroke-width="3.0"/>
<path d="M56.9 38.8h0" stroke="#402018" stroke-width="2.2"/>
<path d="M26.8 13.9h0" stroke="#503030" stroke-width="1.8"/>
<path d="M41.5 18.9h0" stroke="#503030" stroke-width="1.8"/>
<path d="M6.7 41.8h0" stroke="#402018" stroke-width="2.0"/>
</g></g>
<filter id="f15" x="0" y="0" width="1" height="1" color-interpolation-filters="sRGB"><feTurbulence type="fractalNoise" baseFrequency="0.3" numOctaves="3" seed="37"/><feColorMatrix type="matrix" values="0.680 0 0 0 0.421  0.600 0 0 0 0.222  0.520 0 0 0 0.030  0 0 0 0 1"/></filter>
<g transform="translate(296.3,648)"><rect width="67" height="49.8" fill="#c2854a" filter="url(#f15)"/>
<clipPath id="cf15"><rect width="67" height="49.8"/></clipPath><g clip-path="url(#cf15)" fill="none" stroke-linecap="round" filter="url(#blr)">
<path d="M34.7 1.5h0M52.5 8.8h0M46.7 0.1h0M18.0 27.9h0M45.9 44.8h0M27.5 13.4h0M23.3 37.0h0M49.0 17.9h0M15.0 37.2h0M17.5 13.4h0M11.0 42.0h0M53.5 37.5h0M44.6 27.5h0M35.9 31.7h0M29.3 5.0h0M41.9 42.0h0M31.3 19.8h0M24.1 28.7h0M17.8 41.4h0M3.0 15.7h0M41.2 32.5h0M21.3 16.4h0M2.7 35.0h0M35.2 9.0h0M42.0 19.0h0M54.7 45.3h0M54.8 31.6h0M64.3 18.7h0M20.9 46.9h0M40.3 7.8h0M5.3 27.5h0M51.7 2.6h0M66.1 43.4h0M27.1 49.5h0M62.8 1.1h0M2.0 30.5h0M8.4 13.2h0M29.9 9.8h0M2.4 42.3h0M33.4 48.2h0M65.3 12.8h0M10.8 23.6h0M55.0 14.9h0M20.3 4.4h0M66.6 48.9h0M18.3 8.7h0M22.8 8.0h0M10.4 37.4h0M23.3 42.0h0M48.2 9.2h0M29.1 41.8h0M60.2 25.9h0M8.5 45.5h0M3.7 0.0h0M7.0 4.7h0M35.9 13.7h0M12.6 6.7h0M38.6 22.9h0M39.3 45.5h0M53.8 24.8h0" stroke="#f3e3d4" stroke-width="3.2" opacity="0.72"/>
<path d="M39.0 33.9h0M32.6 24.2h0M23.1 41.5h0M17.5 4.9h0M11.5 27.8h0M58.2 26.7h0M2.6 12.4h0M6.7 15.7h0M22.0 45.1h0M32.4 40.8h0M53.9 6.0h0M9.0 46.9h0M0.3 22.0h0M53.4 12.0h0M50.9 44.0h0M56.4 14.7h0M18.0 17.4h0M2.1 1.1h0M15.8 9.3h0M49.4 16.7h0M8.4 1.1h0M40.2 12.0h0M40.7 39.5h0M62.8 45.9h0M15.7 30.9h0M32.8 46.5h0M23.2 25.4h0M0.4 43.4h0M58.8 31.2h0M48.3 48.0h0M55.5 49.0h0M55.5 1.9h0M31.5 3.7h0M48.6 2.1h0M49.2 38.2h0M65.5 38.3h0M52.2 28.2h0M30.3 33.5h0M1.5 16.2h0M32.1 10.1h0M16.8 13.7h0M45.6 29.2h0M19.1 35.8h0M1.2 39.7h0M15.9 20.7h0M29.6 28.7h0M21.8 9.3h0M59.6 0.3h0M65.9 13.7h0M15.0 35.6h0M37.0 9.3h0M11.1 3.7h0M28.7 7.2h0M40.1 19.6h0M41.0 15.6h0M66.6 45.8h0M23.9 29.1h0M3.3 27.7h0M31.5 19.2h0M57.7 38.6h0M39.2 43.8h0M62.1 20.4h0M5.9 35.1h0M9.6 37.6h0M52.2 35.5h0M16.3 43.2h0M43.9 4.6h0M47.4 22.5h0M10.8 19.7h0M1.1 8.8h0" stroke="#7a3a0e" stroke-width="2.1" opacity="0.75"/>
<path d="M60.7 42.4h0M3.1 11.3h0M16.4 36.5h0M33.2 28.5h0M51.1 29.2h0M56.4 5.0h0M40.7 47.7h0M42.7 5.6h0M57.9 48.3h0M19.5 23.0h0M28.6 4.7h0M40.8 16.0h0M13.1 31.7h0M56.8 29.8h0M51.9 34.3h0M34.2 47.3h0M23.8 13.2h0M62.4 35.8h0M23.1 6.6h0M33.8 3.7h0M7.1 21.9h0M1.4 41.4h0M10.6 47.0h0M38.3 1.0h0M44.9 1.9h0M1.6 24.5h0M52.4 10.6h0M29.7 39.6h0M61.6 27.0h0M0.1 36.3h0M1.5 16.5h0M27.4 49.6h0M41.8 9.9h0M47.2 15.0h0M65.7 28.6h0M48.4 43.0h0M53.0 47.3h0M28.4 24.7h0M13.0 41.2h0M43.3 24.0h0M16.3 18.7h0M9.1 31.8h0M24.9 28.9h0M29.6 11.3h0M64.8 46.3h0M2.9 3.3h0M7.3 9.1h0M30.3 32.8h0M36.2 38.9h0M2.5 30.7h0M37.8 29.6h0M16.4 7.7h0M53.7 18.4h0M41.3 36.5h0M28.2 19.8h0M61.0 31.1h0M23.9 38.3h0M63.8 7.3h0M21.6 33.6h0M47.3 38.8h0" stroke="#cf7426" stroke-width="2.6" opacity="0.5"/>
<path d="M30.0 22.6h0M63.3 36.0h0M54.3 4.4h0M31.2 6.7h0M17.2 37.0h0M17.4 19.9h0M5.7 17.3h0M41.8 35.5h0M29.5 36.5h0M12.9 8.7h0M59.2 24.8h0M42.5 6.2h0M53.3 40.5h0M2.9 31.2h0" stroke="#f6ece2" stroke-width="4.5" opacity="0.55"/>
</g></g>
<filter id="f16" x="0" y="0" width="1" height="1" color-interpolation-filters="sRGB"><feTurbulence type="fractalNoise" baseFrequency="0.5" numOctaves="2" seed="39"/><feColorMatrix type="matrix" values="0.100 0 0 0 0.895  0.140 0 0 0 0.836  0.140 0 0 0 0.816  0 0 0 0 1"/></filter>
<g transform="translate(370.3,648)"><rect width="67" height="49.8" fill="#f1e7e2" filter="url(#f16)"/>
<clipPath id="cf16"><rect width="67" height="49.8"/></clipPath><g clip-path="url(#cf16)" fill="none" stroke-linecap="round" filter="url(#blr)">
<path d="M47.3 42.1h0M63.7 31.5h0M13.7 48.5h0M61.5 28.6h0M30.9 28.5h0M30.7 40.2h0M48.7 33.3h0M38.9 27.8h0M8.9 15.2h0M11.8 43.3h0M12.0 20.9h0M22.7 22.1h0M19.3 36.8h0M11.4 35.7h0M66.5 33.3h0M14.7 5.2h0M51.9 25.0h0M34.5 19.7h0M44.9 37.6h0M33.0 9.6h0M50.7 48.3h0M65.4 11.3h0M7.3 48.6h0M56.0 31.1h0M37.4 15.2h0M43.2 23.5h0M47.4 10.6h0M50.8 1.6h0M4.4 21.8h0M7.4 27.2h0M40.5 30.3h0M41.5 5.5h0M63.7 24.3h0M44.3 16.8h0M29.7 2.2h0M37.7 4.3h0M48.6 26.6h0M1.7 45.5h0M64.1 44.5h0M50.2 18.7h0M14.3 29.3h0M65.6 38.8h0M5.1 0.7h0M24.8 11.0h0M34.7 33.9h0M4.4 32.2h0M54.6 26.6h0M42.6 12.4h0M23.7 35.4h0M63.0 17.5h0M56.7 44.6h0M29.4 12.9h0M55.5 48.9h0M31.2 44.9h0M5.1 11.4h0M27.5 16.2h0M57.1 20.7h0M53.3 22.2h0M23.0 18.9h0M28.1 9.2h0M17.3 47.2h0M18.6 42.7h0M59.0 40.5h0M52.7 11.6h0M48.7 29.9h0M20.9 27.4h0M6.9 44.2h0M35.6 44.4h0M15.3 24.6h0M35.2 2.4h0M59.6 8.6h0M18.9 17.9h0M59.6 35.8h0M26.3 1.3h0M0.4 21.1h0M31.7 22.5h0M2.1 3.8h0M11.4 27.6h0M23.3 15.8h0M34.9 12.1h0M13.6 40.5h0M12.1 14.4h0M43.9 27.5h0M25.9 29.0h0M0.5 31.3h0M62.7 8.4h0M15.4 11.1h0M65.3 5.8h0M66.3 14.7h0M34.9 25.6h0M9.5 11.6h0M47.8 4.6h0M10.0 6.5h0M46.3 22.1h0M9.1 19.5h0M0.1 17.7h0M35.1 30.6h0M33.6 47.5h0M22.0 4.0h0M15.5 19.5h0M1.2 40.1h0M37.9 24.2h0M2.4 13.6h0M34.2 6.5h0M39.9 44.1h0M8.9 41.5h0M18.7 0.7h0M37.8 41.9h0M58.2 11.6h0M37.2 36.0h0M55.8 35.0h0M46.1 45.3h0M22.1 38.5h0M28.3 48.6h0M57.7 4.9h0M3.0 26.2h0M39.4 8.6h0M60.4 32.6h0M54.0 4.7h0M21.2 45.4h0M54.7 40.0h0M30.4 17.0h0M42.8 45.5h0M32.8 36.5h0M41.9 20.6h0M31.6 33.2h0M52.8 33.7h0M22.7 41.5h0M43.6 2.0h0M44.7 7.5h0M7.7 30.5h0M8.2 35.9h0M54.3 7.7h0M30.8 6.7h0M9.7 38.6h0M61.9 5.2h0M1.5 7.8h0M27.8 44.3h0M3.2 18.2h0M24.6 44.0h0M51.7 44.5h0M49.5 8.1h0M61.0 47.7h0M17.5 31.2h0M3.6 42.1h0M17.4 39.3h0M43.8 41.1h0M51.5 40.3h0M37.6 21.2h0M59.0 14.7h0M19.0 21.7h0M40.0 47.9h0M55.3 1.1h0M28.0 34.5h0M52.9 15.8h0M61.7 42.5h0M61.7 12.7h0M11.3 31.6h0M0.6 35.3h0M5.7 15.6h0M25.9 23.4h0M25.9 41.2h0M66.9 47.1h0M21.5 48.9h0M34.0 16.3h0M38.0 1.1h0M61.8 38.2h0M51.9 36.8h0M57.8 25.2h0M17.9 9.0h0" stroke="#bd6226" stroke-width="3.3" opacity="0.85"/>
<path d="M66.6 3.8h0M17.4 42.4h0M60.0 28.2h0M40.0 41.8h0M65.4 44.1h0M54.4 25.5h0M21.2 32.8h0M60.3 38.4h0M56.0 40.0h0M28.2 32.8h0M38.0 32.6h0M16.8 10.8h0M23.3 41.8h0M19.9 17.9h0M65.7 20.6h0M44.1 31.2h0M11.2 28.3h0M11.1 42.6h0M49.5 27.4h0M65.0 5.8h0M47.8 23.1h0M28.2 24.7h0M60.5 4.6h0M45.0 13.2h0M35.3 35.7h0M9.0 15.8h0M40.9 38.7h0M8.0 2.6h0M28.2 30.2h0M53.9 20.6h0M57.1 12.4h0M23.0 6.1h0M33.2 26.7h0M16.6 25.2h0M40.9 3.5h0M43.6 1.2h0M43.3 4.3h0M24.8 37.1h0M66.0 12.1h0M63.9 42.2h0M46.7 5.1h0M14.1 26.5h0M13.1 3.1h0M1.9 14.5h0M16.8 4.4h0M43.8 19.2h0M53.9 0.3h0M24.3 29.1h0M39.4 19.4h0M46.1 34.3h0M49.2 31.3h0M13.5 24.0h0M30.4 8.9h0M37.6 11.2h0M34.6 32.0h0M10.6 9.4h0M34.6 0.2h0M29.7 43.2h0M32.0 22.8h0M26.1 23.3h0M10.8 0.9h0M46.5 42.1h0M16.2 31.1h0M19.7 47.5h0M14.5 14.1h0M5.0 9.1h0M33.3 41.0h0M50.6 41.5h0M54.2 37.2h0M53.7 29.4h0M47.6 37.6h0M58.7 47.7h0M12.0 36.0h0M41.4 34.5h0M30.6 49.3h0M37.4 49.7h0M17.0 39.1h0M66.7 27.1h0M9.2 5.7h0M13.9 11.1h0M52.5 39.2h0M57.3 16.5h0M18.8 36.9h0M4.0 4.9h0M57.3 22.9h0M5.0 20.4h0M20.8 8.8h0M16.5 22.2h0M36.6 19.0h0M62.8 37.1h0M56.2 30.0h0M61.8 24.1h0M4.2 15.4h0M22.1 25.9h0M45.3 28.1h0M30.0 38.8h0M30.5 45.5h0M24.4 32.7h0M0.9 5.8h0M46.1 2.6h0M35.5 4.0h0M55.4 44.4h0M16.8 46.7h0M40.1 45.1h0M37.3 39.5h0M56.1 10.0h0M33.9 16.7h0M64.0 32.3h0M40.0 48.6h0M24.1 11.7h0M49.2 34.9h0M1.7 32.5h0M52.8 49.3h0M38.4 0.1h0M0.8 11.1h0M8.3 25.7h0M64.7 38.9h0M65.1 1.4h0M49.9 9.5h0M52.7 2.8h0M5.5 30.6h0M48.2 16.1h0M2.4 22.4h0M53.7 33.8h0M8.2 19.9h0M12.2 38.7h0M19.8 4.1h0M23.2 15.2h0M0.6 2.5h0M3.5 28.7h0M44.8 23.3h0M7.0 46.8h0M27.4 21.1h0M44.5 44.3h0M60.3 13.3h0M8.7 33.0h0M26.1 6.0h0M5.2 1.8h0M36.1 25.8h0M6.7 7.3h0M60.8 33.3h0M44.0 10.3h0M61.1 7.3h0M7.8 23.1h0M46.1 48.0h0M61.6 45.8h0M35.8 6.6h0M31.8 32.6h0M1.9 45.6h0M30.8 18.8h0M27.4 1.6h0M19.6 26.0h0M14.1 45.3h0M23.2 23.2h0M23.7 2.9h0M16.6 34.1h0M18.7 44.8h0M40.6 14.7h0M62.6 28.1h0M21.2 38.6h0M9.5 48.4h0M42.4 43.0h0M2.2 49.6h0M21.9 35.2h0M40.0 9.5h0M56.8 33.9h0M15.6 17.7h0M4.6 37.8h0M26.0 14.4h0M55.7 1.9h0" stroke="#bd6226" stroke-width="2.5" opacity="0.8"/>
<path d="M47.3 42.1h0M63.7 31.5h0M13.7 48.5h0M61.5 28.6h0M30.9 28.5h0M30.7 40.2h0M48.7 33.3h0M38.9 27.8h0M8.9 15.2h0M11.8 43.3h0M12.0 20.9h0M22.7 22.1h0M19.3 36.8h0M11.4 35.7h0M66.5 33.3h0M14.7 5.2h0M51.9 25.0h0M34.5 19.7h0M44.9 37.6h0M33.0 9.6h0M50.7 48.3h0M65.4 11.3h0M7.3 48.6h0M56.0 31.1h0M37.4 15.2h0M43.2 23.5h0M47.4 10.6h0M50.8 1.6h0M4.4 21.8h0M7.4 27.2h0M40.5 30.3h0M41.5 5.5h0M63.7 24.3h0M44.3 16.8h0M29.7 2.2h0M37.7 4.3h0M48.6 26.6h0M1.7 45.5h0M64.1 44.5h0M50.2 18.7h0M14.3 29.3h0M65.6 38.8h0M5.1 0.7h0M24.8 11.0h0M34.7 33.9h0M4.4 32.2h0M54.6 26.6h0M42.6 12.4h0M23.7 35.4h0M63.0 17.5h0M56.7 44.6h0M29.4 12.9h0M55.5 48.9h0M31.2 44.9h0M5.1 11.4h0M27.5 16.2h0M57.1 20.7h0M53.3 22.2h0M23.0 18.9h0M28.1 9.2h0M17.3 47.2h0M18.6 42.7h0M59.0 40.5h0M52.7 11.6h0M48.7 29.9h0M20.9 27.4h0M6.9 44.2h0M35.6 44.4h0M15.3 24.6h0M35.2 2.4h0M59.6 8.6h0M18.9 17.9h0M59.6 35.8h0M26.3 1.3h0M0.4 21.1h0M31.7 22.5h0M2.1 3.8h0M11.4 27.6h0M23.3 15.8h0M34.9 12.1h0M13.6 40.5h0M12.1 14.4h0M43.9 27.5h0M25.9 29.0h0M0.5 31.3h0M62.7 8.4h0M15.4 11.1h0M65.3 5.8h0M66.3 14.7h0M34.9 25.6h0M9.5 11.6h0M47.8 4.6h0M10.0 6.5h0M46.3 22.1h0M9.1 19.5h0M0.1 17.7h0M35.1 30.6h0M33.6 47.5h0M22.0 4.0h0M15.5 19.5h0M1.2 40.1h0M37.9 24.2h0M2.4 13.6h0M34.2 6.5h0M39.9 44.1h0M8.9 41.5h0M18.7 0.7h0M37.8 41.9h0M58.2 11.6h0M37.2 36.0h0M55.8 35.0h0M46.1 45.3h0M22.1 38.5h0M28.3 48.6h0M57.7 4.9h0M3.0 26.2h0M39.4 8.6h0M60.4 32.6h0M54.0 4.7h0M21.2 45.4h0M54.7 40.0h0M30.4 17.0h0M42.8 45.5h0M32.8 36.5h0M41.9 20.6h0M31.6 33.2h0M52.8 33.7h0M22.7 41.5h0M43.6 2.0h0M44.7 7.5h0M7.7 30.5h0M8.2 35.9h0M54.3 7.7h0M30.8 6.7h0M9.7 38.6h0M61.9 5.2h0M1.5 7.8h0M27.8 44.3h0M3.2 18.2h0M24.6 44.0h0M51.7 44.5h0M49.5 8.1h0M61.0 47.7h0M17.5 31.2h0M3.6 42.1h0M17.4 39.3h0M43.8 41.1h0M51.5 40.3h0M37.6 21.2h0M59.0 14.7h0M19.0 21.7h0M40.0 47.9h0M55.3 1.1h0M28.0 34.5h0M52.9 15.8h0M61.7 42.5h0M61.7 12.7h0M11.3 31.6h0M0.6 35.3h0M5.7 15.6h0M25.9 23.4h0M25.9 41.2h0M66.9 47.1h0M21.5 48.9h0M34.0 16.3h0M38.0 1.1h0M61.8 38.2h0M51.9 36.8h0M57.8 25.2h0M17.9 9.0h0" stroke="#4c1306" stroke-width="2.5" opacity="0.97"/>
<path d="M66.6 3.8h0M17.4 42.4h0M60.0 28.2h0M40.0 41.8h0M65.4 44.1h0M54.4 25.5h0M21.2 32.8h0M60.3 38.4h0M56.0 40.0h0M28.2 32.8h0M38.0 32.6h0M16.8 10.8h0M23.3 41.8h0M19.9 17.9h0M65.7 20.6h0M44.1 31.2h0M11.2 28.3h0M11.1 42.6h0M49.5 27.4h0M65.0 5.8h0M47.8 23.1h0M28.2 24.7h0M60.5 4.6h0M45.0 13.2h0M35.3 35.7h0M9.0 15.8h0M40.9 38.7h0M8.0 2.6h0M28.2 30.2h0M53.9 20.6h0M57.1 12.4h0M23.0 6.1h0M33.2 26.7h0M16.6 25.2h0M40.9 3.5h0M43.6 1.2h0M43.3 4.3h0M24.8 37.1h0M66.0 12.1h0M63.9 42.2h0M46.7 5.1h0M14.1 26.5h0M13.1 3.1h0M1.9 14.5h0M16.8 4.4h0M43.8 19.2h0M53.9 0.3h0M24.3 29.1h0M39.4 19.4h0M46.1 34.3h0M49.2 31.3h0M13.5 24.0h0M30.4 8.9h0M37.6 11.2h0M34.6 32.0h0M10.6 9.4h0M34.6 0.2h0M29.7 43.2h0M32.0 22.8h0M26.1 23.3h0M10.8 0.9h0M46.5 42.1h0M16.2 31.1h0M19.7 47.5h0M14.5 14.1h0M5.0 9.1h0M33.3 41.0h0M50.6 41.5h0M54.2 37.2h0M53.7 29.4h0M47.6 37.6h0M58.7 47.7h0M12.0 36.0h0M41.4 34.5h0M30.6 49.3h0M37.4 49.7h0M17.0 39.1h0M66.7 27.1h0M9.2 5.7h0M13.9 11.1h0M52.5 39.2h0M57.3 16.5h0M18.8 36.9h0M4.0 4.9h0M57.3 22.9h0M5.0 20.4h0M20.8 8.8h0M16.5 22.2h0M36.6 19.0h0M62.8 37.1h0M56.2 30.0h0M61.8 24.1h0M4.2 15.4h0M22.1 25.9h0M45.3 28.1h0M30.0 38.8h0M30.5 45.5h0M24.4 32.7h0M0.9 5.8h0M46.1 2.6h0M35.5 4.0h0M55.4 44.4h0M16.8 46.7h0M40.1 45.1h0M37.3 39.5h0M56.1 10.0h0M33.9 16.7h0M64.0 32.3h0M40.0 48.6h0M24.1 11.7h0M49.2 34.9h0M1.7 32.5h0M52.8 49.3h0M38.4 0.1h0M0.8 11.1h0M8.3 25.7h0M64.7 38.9h0M65.1 1.4h0M49.9 9.5h0M52.7 2.8h0M5.5 30.6h0M48.2 16.1h0M2.4 22.4h0M53.7 33.8h0M8.2 19.9h0M12.2 38.7h0M19.8 4.1h0M23.2 15.2h0M0.6 2.5h0M3.5 28.7h0M44.8 23.3h0M7.0 46.8h0M27.4 21.1h0M44.5 44.3h0M60.3 13.3h0M8.7 33.0h0M26.1 6.0h0M5.2 1.8h0M36.1 25.8h0M6.7 7.3h0M60.8 33.3h0M44.0 10.3h0M61.1 7.3h0M7.8 23.1h0M46.1 48.0h0M61.6 45.8h0M35.8 6.6h0M31.8 32.6h0M1.9 45.6h0M30.8 18.8h0M27.4 1.6h0M19.6 26.0h0M14.1 45.3h0M23.2 23.2h0M23.7 2.9h0M16.6 34.1h0M18.7 44.8h0M40.6 14.7h0M62.6 28.1h0M21.2 38.6h0M9.5 48.4h0M42.4 43.0h0M2.2 49.6h0M21.9 35.2h0M40.0 9.5h0M56.8 33.9h0M15.6 17.7h0M4.6 37.8h0M26.0 14.4h0M55.7 1.9h0" stroke="#5a1a08" stroke-width="1.8" opacity="0.95"/>
<path d="M65.5 19.5h0M9.8 48.4h0M53.5 31.1h0M60.5 31.2h0M1.7 37.8h0M40.4 42.9h0M16.5 48.6h0M48.4 14.7h0M36.6 1.6h0M20.3 37.5h0M21.7 16.2h0M62.7 45.5h0M45.6 21.7h0M55.0 46.5h0M6.0 6.1h0M29.1 17.5h0M13.0 42.8h0M12.6 37.2h0M31.2 32.3h0M43.4 15.9h0M63.5 11.4h0M53.3 2.7h0M61.7 40.5h0M38.1 47.4h0M20.9 5.3h0M43.5 6.0h0M30.6 8.9h0M36.7 16.1h0M26.9 48.1h0M31.4 38.7h0" stroke="#b4c0d8" stroke-width="1.8" opacity="0.6"/>
</g></g>
</svg>
</body></html>
